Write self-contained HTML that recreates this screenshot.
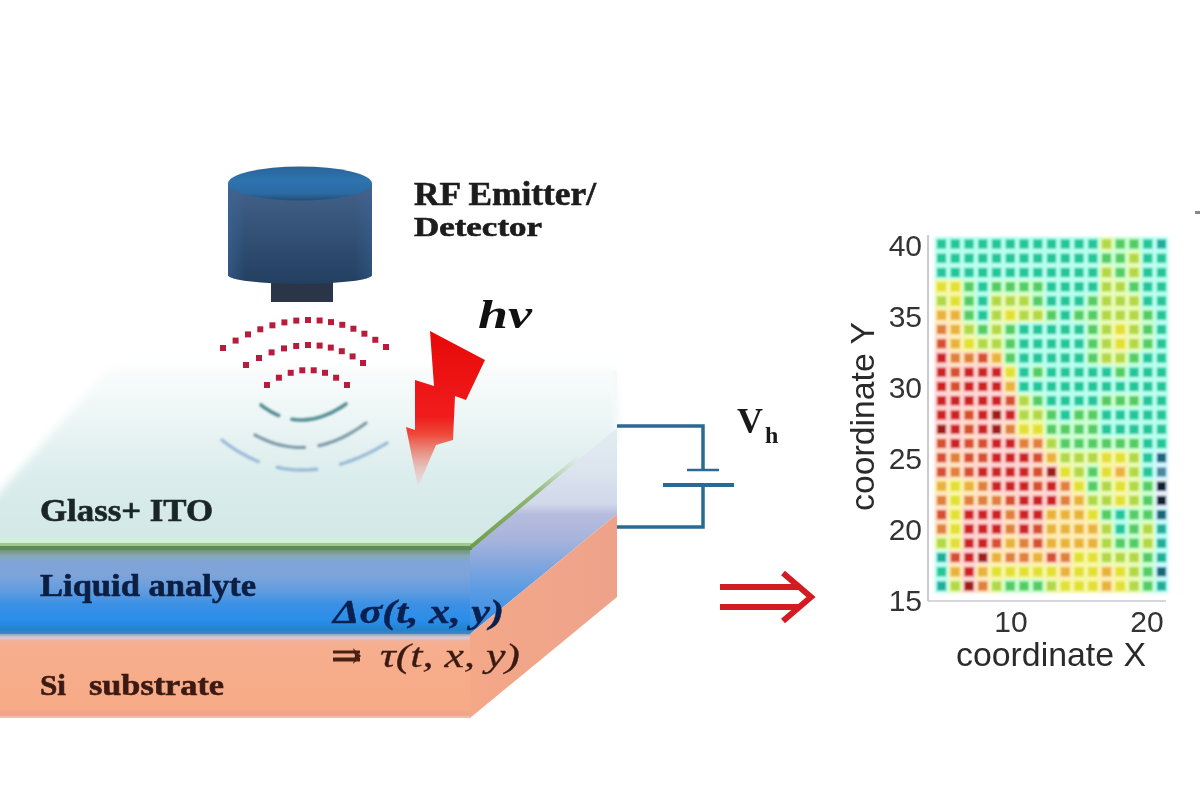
<!DOCTYPE html>
<html><head><meta charset="utf-8"><title>RF sensing diagram</title>
<style>
html,body{margin:0;padding:0;background:#fff;}
body{width:1200px;height:800px;overflow:hidden;}
svg{display:block;filter:blur(0.75px);}
.serif{font-family:"Liberation Serif",serif;font-weight:bold;stroke-width:0.6px;paint-order:stroke;}
.sans{font-family:"Liberation Sans",sans-serif;}
</style></head>
<body>
<svg width="1200" height="800" viewBox="0 0 1200 800">
<defs>
  <linearGradient id="gTop" x1="0" y1="365" x2="0" y2="547" gradientUnits="userSpaceOnUse">
    <stop offset="0" stop-color="#fafcfc"/>
    <stop offset="0.19" stop-color="#f2f8f8"/>
    <stop offset="0.41" stop-color="#e6f2f2"/>
    <stop offset="0.63" stop-color="#dbecec"/>
    <stop offset="0.91" stop-color="#d4e8e8"/>
    <stop offset="1" stop-color="#d4e8e8"/>
  </linearGradient>
  <linearGradient id="gTopL" x1="0" y1="0" x2="300" y2="0" gradientUnits="userSpaceOnUse">
    <stop offset="0" stop-color="#fff" stop-opacity="0.55"/>
    <stop offset="1" stop-color="#fff" stop-opacity="0"/>
  </linearGradient>
  <linearGradient id="gLiq" x1="0" y1="548" x2="0" y2="634" gradientUnits="userSpaceOnUse">
    <stop offset="0" stop-color="#6a9070"/>
    <stop offset="0.047" stop-color="#7a9a8a"/>
    <stop offset="0.093" stop-color="#88a8b8"/>
    <stop offset="0.163" stop-color="#80a4d8"/>
    <stop offset="0.314" stop-color="#7ea4da"/>
    <stop offset="0.5" stop-color="#609ce0"/>
    <stop offset="0.66" stop-color="#3a90e4"/>
    <stop offset="0.84" stop-color="#2a8eea"/>
    <stop offset="0.95" stop-color="#2282cc"/>
    <stop offset="1" stop-color="#4a86c0"/>
  </linearGradient>
  <linearGradient id="gLiqSide" x1="0" y1="428" x2="0" y2="634" gradientUnits="userSpaceOnUse">
    <stop offset="0" stop-color="#e4ecf2"/>
    <stop offset="0.2" stop-color="#dce4ee"/>
    <stop offset="0.37" stop-color="#d0d8ea"/>
    <stop offset="0.42" stop-color="#b6bcde"/>
    <stop offset="0.54" stop-color="#a8b4dc"/>
    <stop offset="0.64" stop-color="#8aa8dc"/>
    <stop offset="0.78" stop-color="#5c9ce2"/>
    <stop offset="0.93" stop-color="#3a90e6"/>
    <stop offset="1" stop-color="#2a86d8"/>
  </linearGradient>
  <linearGradient id="gGreenD" x1="472" y1="546" x2="580" y2="456" gradientUnits="userSpaceOnUse">
    <stop offset="0" stop-color="#6e9e48"/>
    <stop offset="0.6" stop-color="#80aa5a" stop-opacity="0.8"/>
    <stop offset="1" stop-color="#a0c080" stop-opacity="0"/>
  </linearGradient>
  <linearGradient id="gSi" x1="0" y1="634" x2="0" y2="718" gradientUnits="userSpaceOnUse">
    <stop offset="0" stop-color="#90a2b8"/>
    <stop offset="0.04" stop-color="#dcc8d0"/>
    <stop offset="0.08" stop-color="#f0b29a"/>
    <stop offset="0.14" stop-color="#f6ae8e"/>
    <stop offset="0.9" stop-color="#f8aa86"/>
    <stop offset="0.96" stop-color="#eca290"/>
    <stop offset="1" stop-color="#f4c4b4"/>
  </linearGradient>
  <linearGradient id="gSiSide" x1="470" y1="0" x2="617" y2="0" gradientUnits="userSpaceOnUse">
    <stop offset="0" stop-color="#f4a888"/>
    <stop offset="1" stop-color="#eea28a"/>
  </linearGradient>
  <linearGradient id="gGlassSide" x1="0" y1="365" x2="0" y2="547" gradientUnits="userSpaceOnUse">
    <stop offset="0" stop-color="#eef4f6"/>
    <stop offset="0.6" stop-color="#d4e2ea"/>
    <stop offset="1" stop-color="#c0d0e6"/>
  </linearGradient>
  <linearGradient id="gCapTop" x1="0" y1="167" x2="0" y2="200" gradientUnits="userSpaceOnUse">
    <stop offset="0" stop-color="#2a6498"/>
    <stop offset="0.4" stop-color="#2d74b0"/>
    <stop offset="0.8" stop-color="#2c6aa2"/>
    <stop offset="1" stop-color="#22507e"/>
  </linearGradient>
  <linearGradient id="gBody" x1="0" y1="183" x2="0" y2="285" gradientUnits="userSpaceOnUse">
    <stop offset="0" stop-color="#46618a"/>
    <stop offset="0.3" stop-color="#3a587e"/>
    <stop offset="1" stop-color="#223f60"/>
  </linearGradient>
  <linearGradient id="gBodyH" x1="228" y1="0" x2="372" y2="0" gradientUnits="userSpaceOnUse">
    <stop offset="0" stop-color="#3a6aa0" stop-opacity="0.5"/>
    <stop offset="0.12" stop-color="#3a6aa0" stop-opacity="0"/>
    <stop offset="0.88" stop-color="#3a6aa0" stop-opacity="0"/>
    <stop offset="1" stop-color="#3a6aa0" stop-opacity="0.35"/>
  </linearGradient>
  <linearGradient id="gBolt" x1="0" y1="330" x2="0" y2="487" gradientUnits="userSpaceOnUse">
    <stop offset="0" stop-color="#e80808"/>
    <stop offset="0.55" stop-color="#f01c1c"/>
    <stop offset="0.66" stop-color="#ee4638"/>
    <stop offset="0.78" stop-color="#e8887a" stop-opacity="0.9"/>
    <stop offset="1" stop-color="#f0b8b0" stop-opacity="0.15"/>
  </linearGradient>
  <filter id="blurGlass" x="-10%" y="-20%" width="120%" height="140%"><feGaussianBlur stdDeviation="4.5"/></filter>
  <filter id="soft" x="-5%" y="-5%" width="110%" height="110%"><feGaussianBlur stdDeviation="0.9"/></filter>
  <filter id="soft2" x="-5%" y="-5%" width="110%" height="110%"><feGaussianBlur stdDeviation="0.6"/></filter>
</defs>
<rect width="1200" height="800" fill="#fff"/>

<!-- ===== SLAB ===== -->
<!-- glass top + front (light) -->
<polygon points="-10,503 110,368 617,368 617,440 470,560 -10,560" fill="url(#gTop)" filter="url(#blurGlass)"/>
<rect x="613" y="370" width="4" height="60" fill="#f4f8fa" opacity="0.7"/>
<!-- liquid front -->
<rect x="0" y="548" width="471" height="86" fill="url(#gLiq)"/>
<!-- liquid right side -->
<polygon points="470,548 617,428 617,514 470,634" fill="url(#gLiqSide)"/>
<!-- Si front -->
<rect x="0" y="634" width="471" height="84" fill="url(#gSi)"/>
<!-- Si right side -->
<polygon points="470,634 617,514 617,597 470,718" fill="url(#gSiSide)"/>
<!-- interface line between liquid and Si -->
<!-- ITO green line -->
<rect x="0" y="537" width="472" height="6" fill="#d2f0d8"/>
<rect x="0" y="543" width="472" height="3" fill="#a0c890"/>
<rect x="0" y="546" width="472" height="4" fill="#5e8c5a"/>
<line x1="471" y1="547" x2="580" y2="456" stroke="url(#gGreenD)" stroke-width="4"/>

<!-- texts on slab -->
<text class="serif" x="40" y="521" font-size="30.5" fill="#1a2626" stroke="#1a2626" textLength="173" lengthAdjust="spacingAndGlyphs">Glass+ ITO</text>
<text class="serif" x="40" y="595.5" font-size="31.5" fill="#0c1e42" stroke="#0c1e42" textLength="216" lengthAdjust="spacingAndGlyphs">Liquid analyte</text>
<text class="serif" x="40" y="695" font-size="30" fill="#3a1a12" stroke="#3a1a12" textLength="26" lengthAdjust="spacingAndGlyphs">Si</text>
<text class="serif" x="89" y="695" font-size="30" fill="#3a1a12" stroke="#3a1a12" textLength="135" lengthAdjust="spacingAndGlyphs">substrate</text>
<text x="333" y="623" font-family="Liberation Serif" font-weight="bold" font-style="italic" font-size="34" fill="#0a2050" stroke="#0a2050" stroke-width="0.4" textLength="171" lengthAdjust="spacingAndGlyphs">Δσ(t, x, y)</text>
<g fill="#4a2012"><rect x="333" y="650.5" width="27" height="3"/><rect x="333" y="657.5" width="27" height="4"/><polygon points="353,648 361,656 353,664 355,656"/></g>
<text x="380" y="667" font-family="Liberation Serif" font-style="italic" font-size="33" fill="#3a1a12" stroke="#3a1a12" stroke-width="0.3" textLength="140" lengthAdjust="spacingAndGlyphs">τ(t, x, y)</text>

<!-- ===== RF waves ===== -->
<g fill="none" stroke-linecap="round" filter="url(#soft2)">
<rect x="220.0" y="345.0" width="6" height="6" fill="#b81e3c"/><rect x="232.6" y="337.6" width="6" height="6" fill="#b81e3c"/><rect x="245.0" y="331.4" width="6" height="6" fill="#b81e3c"/><rect x="257.3" y="326.3" width="6" height="6" fill="#b81e3c"/><rect x="269.4" y="322.3" width="6" height="6" fill="#b81e3c"/><rect x="281.4" y="319.4" width="6" height="6" fill="#b81e3c"/><rect x="293.3" y="317.6" width="6" height="6" fill="#b81e3c"/><rect x="305.0" y="317.0" width="6" height="6" fill="#b81e3c"/><rect x="316.6" y="317.5" width="6" height="6" fill="#b81e3c"/><rect x="328.0" y="319.1" width="6" height="6" fill="#b81e3c"/><rect x="339.3" y="321.8" width="6" height="6" fill="#b81e3c"/><rect x="350.4" y="325.7" width="6" height="6" fill="#b81e3c"/><rect x="361.4" y="330.7" width="6" height="6" fill="#b81e3c"/><rect x="372.3" y="336.8" width="6" height="6" fill="#b81e3c"/><rect x="383.0" y="344.0" width="6" height="6" fill="#b81e3c"/><rect x="243.0" y="362.0" width="6" height="6" fill="#b81e3c"/><rect x="256.0" y="355.0" width="6" height="6" fill="#b81e3c"/><rect x="268.6" y="349.4" width="6" height="6" fill="#b81e3c"/><rect x="281.0" y="345.4" width="6" height="6" fill="#b81e3c"/><rect x="293.2" y="343.0" width="6" height="6" fill="#b81e3c"/><rect x="305.0" y="342.0" width="6" height="6" fill="#b81e3c"/><rect x="316.6" y="342.6" width="6" height="6" fill="#b81e3c"/><rect x="327.8" y="344.6" width="6" height="6" fill="#b81e3c"/><rect x="338.8" y="348.2" width="6" height="6" fill="#b81e3c"/><rect x="349.6" y="353.4" width="6" height="6" fill="#b81e3c"/><rect x="360.0" y="360.0" width="6" height="6" fill="#b81e3c"/><rect x="264.0" y="382.0" width="6" height="6" fill="#b81e3c"/><rect x="275.9" y="374.7" width="6" height="6" fill="#b81e3c"/><rect x="287.7" y="369.8" width="6" height="6" fill="#b81e3c"/><rect x="299.3" y="367.3" width="6" height="6" fill="#b81e3c"/><rect x="310.7" y="367.3" width="6" height="6" fill="#b81e3c"/><rect x="322.0" y="369.8" width="6" height="6" fill="#b81e3c"/><rect x="333.1" y="374.7" width="6" height="6" fill="#b81e3c"/><rect x="344.0" y="382.0" width="6" height="6" fill="#b81e3c"/>
</g>
<g fill="none" stroke-linecap="round" filter="url(#soft)" opacity="0.85">
<polyline points="261.0,405.0 262.5,406.1 263.9,407.2 265.4,408.2 266.8,409.1 268.3,410.1 269.8,411.0 271.2,411.8 272.7,412.6 274.2,413.4 275.7,414.1 277.2,414.8 278.7,415.4" stroke="#3a7c82" stroke-width="3.6" fill="none" stroke-linecap="round"/><polyline points="291.9,419.2 296.2,419.8 300.6,420.0 305.0,419.9 309.4,419.4 313.9,418.7 318.4,417.6 322.9,416.1 327.4,414.4 332.0,412.3 336.7,409.8 341.3,407.1 346.0,404.0" stroke="#3a7c82" stroke-width="3.6" fill="none" stroke-linecap="round"/><polyline points="255.0,435.0 259.1,437.1 263.2,439.1 267.3,440.8 271.4,442.4 275.5,443.7 279.6,444.9 283.8,445.8 287.9,446.5 292.0,447.0 296.2,447.4 300.3,447.5 304.5,447.4" stroke="#6a8c9c" stroke-width="3.2" fill="none" stroke-linecap="round"/><polyline points="318.9,445.6 322.8,444.7 326.7,443.6 330.6,442.3 334.5,440.9 338.4,439.3 342.4,437.5 346.3,435.5 350.2,433.3 354.2,431.0 358.1,428.5 362.0,425.9 366.0,423.0" stroke="#6a8c9c" stroke-width="3.2" fill="none" stroke-linecap="round"/><polyline points="222.0,440.0 224.9,442.3 227.9,444.5 230.9,446.6 233.9,448.6 236.9,450.6 239.9,452.4 242.9,454.1 246.0,455.8 249.0,457.4 252.1,458.8 255.2,460.2 258.3,461.5" stroke="#8eb4d4" stroke-width="3.4" fill="none" stroke-linecap="round"/><polyline points="277.3,467.3 280.5,468.0 283.7,468.6 286.9,469.0 290.2,469.4 293.4,469.7 296.7,469.9 300.0,470.0 303.3,470.0 306.6,469.9 310.0,469.8 313.3,469.5 316.7,469.2" stroke="#8eb4d4" stroke-width="3.4" fill="none" stroke-linecap="round"/><polyline points="340.6,464.2 344.4,463.0 348.2,461.7 352.0,460.3 355.8,458.8 359.7,457.2 363.5,455.5 367.4,453.7 371.3,451.8 375.2,449.7 379.1,447.6 383.0,445.4 387.0,443.0" stroke="#8eb4d4" stroke-width="3.4" fill="none" stroke-linecap="round"/>
</g>

<!-- ===== Emitter cylinder ===== -->
<rect x="271" y="278" width="62" height="24" fill="#2a3648"/>
<path d="M228,183 L228,275 A72,9 0 0 0 372,275 L372,183 Z" fill="url(#gBody)"/>
<path d="M228,183 L228,275 A72,9 0 0 0 372,275 L372,183 Z" fill="url(#gBodyH)"/>
<ellipse cx="300" cy="183.5" rx="72" ry="17" fill="url(#gCapTop)"/>

<text class="serif" x="414" y="205" font-size="33" fill="#1c1c1c" stroke="#1c1c1c" textLength="182" lengthAdjust="spacingAndGlyphs">RF Emitter/</text>
<text class="serif" x="414" y="236" font-size="28" fill="#1c1c1c" stroke="#1c1c1c" textLength="128" lengthAdjust="spacingAndGlyphs">Detector</text>

<!-- ===== lightning bolt ===== -->
<polygon points="430,331 485,360 466,400 455,396 453,440 436,445 418,487 406,427 415,430 415,380 434,386" fill="url(#gBolt)"/>
<text x="478" y="328" font-family="Liberation Serif" font-weight="bold" font-style="italic" font-size="40" fill="#111" textLength="54" lengthAdjust="spacingAndGlyphs">hν</text>

<!-- ===== circuit ===== -->
<g stroke="#2a6a92" fill="none">
  <polyline points="617,426 703,426 703,470" stroke-width="3.5"/>
  <line x1="687" y1="470" x2="719" y2="470" stroke-width="2.5"/>
  <line x1="663" y1="485" x2="734" y2="485" stroke-width="4"/>
  <polyline points="703,485 703,527 617,527" stroke-width="3.5"/>
</g>
<text class="serif" x="737" y="433" font-size="35" fill="#1a1a1a" stroke="none" textLength="26" lengthAdjust="spacingAndGlyphs">V</text>
<text class="serif" x="765" y="443" font-size="24" fill="#1a1a1a" stroke="none">h</text>

<!-- ===== arrow ===== -->
<g stroke="#d41a22" fill="none" stroke-width="6" stroke-linecap="butt">
  <line x1="720" y1="587" x2="800" y2="587"/>
  <line x1="720" y1="607" x2="800" y2="607"/>
  <polyline points="783,573 811,597 783,621" stroke-linejoin="miter"/>
</g>

<!-- ===== heatmap ===== -->
<rect x="928" y="235" width="238" height="365" fill="#ffffff"/>
<g filter="url(#soft)">
<rect x="934.62" y="236.88" width="13.75" height="14.25" fill="#b4fff0"/>
<rect x="948.38" y="236.88" width="13.75" height="14.25" fill="#b4fff0"/>
<rect x="962.12" y="236.88" width="13.75" height="14.25" fill="#b4fff0"/>
<rect x="975.88" y="236.88" width="13.75" height="14.25" fill="#b4fff0"/>
<rect x="989.62" y="236.88" width="13.75" height="14.25" fill="#b4fff0"/>
<rect x="1003.38" y="236.88" width="13.75" height="14.25" fill="#b4fff0"/>
<rect x="1017.12" y="236.88" width="13.75" height="14.25" fill="#b4fff0"/>
<rect x="1030.88" y="236.88" width="13.75" height="14.25" fill="#b4fff0"/>
<rect x="1044.62" y="236.88" width="13.75" height="14.25" fill="#b4fff0"/>
<rect x="1058.38" y="236.88" width="13.75" height="14.25" fill="#b4fff0"/>
<rect x="1072.12" y="236.88" width="13.75" height="14.25" fill="#b4fff0"/>
<rect x="1085.88" y="236.88" width="13.75" height="14.25" fill="#b4fff0"/>
<rect x="1099.62" y="236.88" width="13.75" height="14.25" fill="#e7fab0"/>
<rect x="1113.38" y="236.88" width="13.75" height="14.25" fill="#c8ffd0"/>
<rect x="1127.12" y="236.88" width="13.75" height="14.25" fill="#c8ffd0"/>
<rect x="1140.88" y="236.88" width="13.75" height="14.25" fill="#b4fff0"/>
<rect x="1154.62" y="236.88" width="13.75" height="14.25" fill="#bafff8"/>
<rect x="934.62" y="251.12" width="13.75" height="14.25" fill="#b4fff0"/>
<rect x="948.38" y="251.12" width="13.75" height="14.25" fill="#b4fff0"/>
<rect x="962.12" y="251.12" width="13.75" height="14.25" fill="#b4fff0"/>
<rect x="975.88" y="251.12" width="13.75" height="14.25" fill="#b4fff0"/>
<rect x="989.62" y="251.12" width="13.75" height="14.25" fill="#b4fff0"/>
<rect x="1003.38" y="251.12" width="13.75" height="14.25" fill="#b4fff0"/>
<rect x="1017.12" y="251.12" width="13.75" height="14.25" fill="#b4fff0"/>
<rect x="1030.88" y="251.12" width="13.75" height="14.25" fill="#b4fff0"/>
<rect x="1044.62" y="251.12" width="13.75" height="14.25" fill="#b4fff0"/>
<rect x="1058.38" y="251.12" width="13.75" height="14.25" fill="#b4fff0"/>
<rect x="1072.12" y="251.12" width="13.75" height="14.25" fill="#b4fff0"/>
<rect x="1085.88" y="251.12" width="13.75" height="14.25" fill="#b4fff0"/>
<rect x="1099.62" y="251.12" width="13.75" height="14.25" fill="#c8ffd0"/>
<rect x="1113.38" y="251.12" width="13.75" height="14.25" fill="#c8ffd0"/>
<rect x="1127.12" y="251.12" width="13.75" height="14.25" fill="#e7fab0"/>
<rect x="1140.88" y="251.12" width="13.75" height="14.25" fill="#b4fff0"/>
<rect x="1154.62" y="251.12" width="13.75" height="14.25" fill="#b4fff0"/>
<rect x="934.62" y="265.38" width="13.75" height="14.25" fill="#b4fff0"/>
<rect x="948.38" y="265.38" width="13.75" height="14.25" fill="#b4fff0"/>
<rect x="962.12" y="265.38" width="13.75" height="14.25" fill="#b4fff0"/>
<rect x="975.88" y="265.38" width="13.75" height="14.25" fill="#b4fff0"/>
<rect x="989.62" y="265.38" width="13.75" height="14.25" fill="#b4fff0"/>
<rect x="1003.38" y="265.38" width="13.75" height="14.25" fill="#b4fff0"/>
<rect x="1017.12" y="265.38" width="13.75" height="14.25" fill="#b4fff0"/>
<rect x="1030.88" y="265.38" width="13.75" height="14.25" fill="#b4fff0"/>
<rect x="1044.62" y="265.38" width="13.75" height="14.25" fill="#b4fff0"/>
<rect x="1058.38" y="265.38" width="13.75" height="14.25" fill="#b4fff0"/>
<rect x="1072.12" y="265.38" width="13.75" height="14.25" fill="#b4fff0"/>
<rect x="1085.88" y="265.38" width="13.75" height="14.25" fill="#b4fff0"/>
<rect x="1099.62" y="265.38" width="13.75" height="14.25" fill="#e7fab0"/>
<rect x="1113.38" y="265.38" width="13.75" height="14.25" fill="#c8ffd0"/>
<rect x="1127.12" y="265.38" width="13.75" height="14.25" fill="#e7fab0"/>
<rect x="1140.88" y="265.38" width="13.75" height="14.25" fill="#b4fff0"/>
<rect x="1154.62" y="265.38" width="13.75" height="14.25" fill="#b4fff0"/>
<rect x="934.62" y="279.62" width="13.75" height="14.25" fill="#f7f69e"/>
<rect x="948.38" y="279.62" width="13.75" height="14.25" fill="#f7f69e"/>
<rect x="962.12" y="279.62" width="13.75" height="14.25" fill="#c8ffd0"/>
<rect x="975.88" y="279.62" width="13.75" height="14.25" fill="#b4fff0"/>
<rect x="989.62" y="279.62" width="13.75" height="14.25" fill="#c8ffd0"/>
<rect x="1003.38" y="279.62" width="13.75" height="14.25" fill="#c8ffd0"/>
<rect x="1017.12" y="279.62" width="13.75" height="14.25" fill="#c8ffd0"/>
<rect x="1030.88" y="279.62" width="13.75" height="14.25" fill="#c8ffd0"/>
<rect x="1044.62" y="279.62" width="13.75" height="14.25" fill="#b4fff0"/>
<rect x="1058.38" y="279.62" width="13.75" height="14.25" fill="#b4fff0"/>
<rect x="1072.12" y="279.62" width="13.75" height="14.25" fill="#b4fff0"/>
<rect x="1085.88" y="279.62" width="13.75" height="14.25" fill="#b4fff0"/>
<rect x="1099.62" y="279.62" width="13.75" height="14.25" fill="#e7fab0"/>
<rect x="1113.38" y="279.62" width="13.75" height="14.25" fill="#e7fab0"/>
<rect x="1127.12" y="279.62" width="13.75" height="14.25" fill="#c8ffd0"/>
<rect x="1140.88" y="279.62" width="13.75" height="14.25" fill="#b4fff0"/>
<rect x="1154.62" y="279.62" width="13.75" height="14.25" fill="#b4fff0"/>
<rect x="934.62" y="293.88" width="13.75" height="14.25" fill="#e7fab0"/>
<rect x="948.38" y="293.88" width="13.75" height="14.25" fill="#f7f69e"/>
<rect x="962.12" y="293.88" width="13.75" height="14.25" fill="#c8ffd0"/>
<rect x="975.88" y="293.88" width="13.75" height="14.25" fill="#b4fff0"/>
<rect x="989.62" y="293.88" width="13.75" height="14.25" fill="#e7fab0"/>
<rect x="1003.38" y="293.88" width="13.75" height="14.25" fill="#e7fab0"/>
<rect x="1017.12" y="293.88" width="13.75" height="14.25" fill="#e7fab0"/>
<rect x="1030.88" y="293.88" width="13.75" height="14.25" fill="#c8ffd0"/>
<rect x="1044.62" y="293.88" width="13.75" height="14.25" fill="#b4fff0"/>
<rect x="1058.38" y="293.88" width="13.75" height="14.25" fill="#b4fff0"/>
<rect x="1072.12" y="293.88" width="13.75" height="14.25" fill="#b4fff0"/>
<rect x="1085.88" y="293.88" width="13.75" height="14.25" fill="#c8ffd0"/>
<rect x="1099.62" y="293.88" width="13.75" height="14.25" fill="#e7fab0"/>
<rect x="1113.38" y="293.88" width="13.75" height="14.25" fill="#e7fab0"/>
<rect x="1127.12" y="293.88" width="13.75" height="14.25" fill="#e7fab0"/>
<rect x="1140.88" y="293.88" width="13.75" height="14.25" fill="#b4fff0"/>
<rect x="1154.62" y="293.88" width="13.75" height="14.25" fill="#b4fff0"/>
<rect x="934.62" y="308.12" width="13.75" height="14.25" fill="#ffebaf"/>
<rect x="948.38" y="308.12" width="13.75" height="14.25" fill="#ffebaf"/>
<rect x="962.12" y="308.12" width="13.75" height="14.25" fill="#c8ffd0"/>
<rect x="975.88" y="308.12" width="13.75" height="14.25" fill="#b4fff0"/>
<rect x="989.62" y="308.12" width="13.75" height="14.25" fill="#e7fab0"/>
<rect x="1003.38" y="308.12" width="13.75" height="14.25" fill="#f7f69e"/>
<rect x="1017.12" y="308.12" width="13.75" height="14.25" fill="#e7fab0"/>
<rect x="1030.88" y="308.12" width="13.75" height="14.25" fill="#e7fab0"/>
<rect x="1044.62" y="308.12" width="13.75" height="14.25" fill="#c8ffd0"/>
<rect x="1058.38" y="308.12" width="13.75" height="14.25" fill="#b4fff0"/>
<rect x="1072.12" y="308.12" width="13.75" height="14.25" fill="#c8ffd0"/>
<rect x="1085.88" y="308.12" width="13.75" height="14.25" fill="#c8ffd0"/>
<rect x="1099.62" y="308.12" width="13.75" height="14.25" fill="#e7fab0"/>
<rect x="1113.38" y="308.12" width="13.75" height="14.25" fill="#e7fab0"/>
<rect x="1127.12" y="308.12" width="13.75" height="14.25" fill="#e7fab0"/>
<rect x="1140.88" y="308.12" width="13.75" height="14.25" fill="#c8ffd0"/>
<rect x="1154.62" y="308.12" width="13.75" height="14.25" fill="#b4fff0"/>
<rect x="934.62" y="322.38" width="13.75" height="14.25" fill="#ffe2bf"/>
<rect x="948.38" y="322.38" width="13.75" height="14.25" fill="#ffebaf"/>
<rect x="962.12" y="322.38" width="13.75" height="14.25" fill="#e7fab0"/>
<rect x="975.88" y="322.38" width="13.75" height="14.25" fill="#c8ffd0"/>
<rect x="989.62" y="322.38" width="13.75" height="14.25" fill="#e7fab0"/>
<rect x="1003.38" y="322.38" width="13.75" height="14.25" fill="#c8ffd0"/>
<rect x="1017.12" y="322.38" width="13.75" height="14.25" fill="#b4fff0"/>
<rect x="1030.88" y="322.38" width="13.75" height="14.25" fill="#b4fff0"/>
<rect x="1044.62" y="322.38" width="13.75" height="14.25" fill="#b4fff0"/>
<rect x="1058.38" y="322.38" width="13.75" height="14.25" fill="#b4fff0"/>
<rect x="1072.12" y="322.38" width="13.75" height="14.25" fill="#b4fff0"/>
<rect x="1085.88" y="322.38" width="13.75" height="14.25" fill="#c8ffd0"/>
<rect x="1099.62" y="322.38" width="13.75" height="14.25" fill="#e7fab0"/>
<rect x="1113.38" y="322.38" width="13.75" height="14.25" fill="#f7f69e"/>
<rect x="1127.12" y="322.38" width="13.75" height="14.25" fill="#e7fab0"/>
<rect x="1140.88" y="322.38" width="13.75" height="14.25" fill="#c8ffd0"/>
<rect x="1154.62" y="322.38" width="13.75" height="14.25" fill="#b4fff0"/>
<rect x="934.62" y="336.62" width="13.75" height="14.25" fill="#ffdac9"/>
<rect x="948.38" y="336.62" width="13.75" height="14.25" fill="#ffebaf"/>
<rect x="962.12" y="336.62" width="13.75" height="14.25" fill="#f7f69e"/>
<rect x="975.88" y="336.62" width="13.75" height="14.25" fill="#e7fab0"/>
<rect x="989.62" y="336.62" width="13.75" height="14.25" fill="#e7fab0"/>
<rect x="1003.38" y="336.62" width="13.75" height="14.25" fill="#c8ffd0"/>
<rect x="1017.12" y="336.62" width="13.75" height="14.25" fill="#b4fff0"/>
<rect x="1030.88" y="336.62" width="13.75" height="14.25" fill="#b4fff0"/>
<rect x="1044.62" y="336.62" width="13.75" height="14.25" fill="#b4fff0"/>
<rect x="1058.38" y="336.62" width="13.75" height="14.25" fill="#b4fff0"/>
<rect x="1072.12" y="336.62" width="13.75" height="14.25" fill="#b4fff0"/>
<rect x="1085.88" y="336.62" width="13.75" height="14.25" fill="#c8ffd0"/>
<rect x="1099.62" y="336.62" width="13.75" height="14.25" fill="#e7fab0"/>
<rect x="1113.38" y="336.62" width="13.75" height="14.25" fill="#f7f69e"/>
<rect x="1127.12" y="336.62" width="13.75" height="14.25" fill="#e7fab0"/>
<rect x="1140.88" y="336.62" width="13.75" height="14.25" fill="#c8ffd0"/>
<rect x="1154.62" y="336.62" width="13.75" height="14.25" fill="#b4fff0"/>
<rect x="934.62" y="350.88" width="13.75" height="14.25" fill="#ffd2d2"/>
<rect x="948.38" y="350.88" width="13.75" height="14.25" fill="#ffe2bf"/>
<rect x="962.12" y="350.88" width="13.75" height="14.25" fill="#ffe2bf"/>
<rect x="975.88" y="350.88" width="13.75" height="14.25" fill="#ffdac9"/>
<rect x="989.62" y="350.88" width="13.75" height="14.25" fill="#ffebaf"/>
<rect x="1003.38" y="350.88" width="13.75" height="14.25" fill="#c8ffd0"/>
<rect x="1017.12" y="350.88" width="13.75" height="14.25" fill="#b4fff0"/>
<rect x="1030.88" y="350.88" width="13.75" height="14.25" fill="#b4fff0"/>
<rect x="1044.62" y="350.88" width="13.75" height="14.25" fill="#b4fff0"/>
<rect x="1058.38" y="350.88" width="13.75" height="14.25" fill="#b4fff0"/>
<rect x="1072.12" y="350.88" width="13.75" height="14.25" fill="#b4fff0"/>
<rect x="1085.88" y="350.88" width="13.75" height="14.25" fill="#c8ffd0"/>
<rect x="1099.62" y="350.88" width="13.75" height="14.25" fill="#e7fab0"/>
<rect x="1113.38" y="350.88" width="13.75" height="14.25" fill="#e7fab0"/>
<rect x="1127.12" y="350.88" width="13.75" height="14.25" fill="#c8ffd0"/>
<rect x="1140.88" y="350.88" width="13.75" height="14.25" fill="#b4fff0"/>
<rect x="1154.62" y="350.88" width="13.75" height="14.25" fill="#b4fff0"/>
<rect x="934.62" y="365.12" width="13.75" height="14.25" fill="#ffd2d2"/>
<rect x="948.38" y="365.12" width="13.75" height="14.25" fill="#ffdac9"/>
<rect x="962.12" y="365.12" width="13.75" height="14.25" fill="#ffd2d2"/>
<rect x="975.88" y="365.12" width="13.75" height="14.25" fill="#ffd2d2"/>
<rect x="989.62" y="365.12" width="13.75" height="14.25" fill="#ffd2d2"/>
<rect x="1003.38" y="365.12" width="13.75" height="14.25" fill="#f7f69e"/>
<rect x="1017.12" y="365.12" width="13.75" height="14.25" fill="#b4fff0"/>
<rect x="1030.88" y="365.12" width="13.75" height="14.25" fill="#c8ffd0"/>
<rect x="1044.62" y="365.12" width="13.75" height="14.25" fill="#b4fff0"/>
<rect x="1058.38" y="365.12" width="13.75" height="14.25" fill="#b4fff0"/>
<rect x="1072.12" y="365.12" width="13.75" height="14.25" fill="#b4fff0"/>
<rect x="1085.88" y="365.12" width="13.75" height="14.25" fill="#b4fff0"/>
<rect x="1099.62" y="365.12" width="13.75" height="14.25" fill="#b4fff0"/>
<rect x="1113.38" y="365.12" width="13.75" height="14.25" fill="#c8ffd0"/>
<rect x="1127.12" y="365.12" width="13.75" height="14.25" fill="#b4fff0"/>
<rect x="1140.88" y="365.12" width="13.75" height="14.25" fill="#b4fff0"/>
<rect x="1154.62" y="365.12" width="13.75" height="14.25" fill="#b4fff0"/>
<rect x="934.62" y="379.38" width="13.75" height="14.25" fill="#ffd2d2"/>
<rect x="948.38" y="379.38" width="13.75" height="14.25" fill="#ffdac9"/>
<rect x="962.12" y="379.38" width="13.75" height="14.25" fill="#ffd2d2"/>
<rect x="975.88" y="379.38" width="13.75" height="14.25" fill="#ffd2d2"/>
<rect x="989.62" y="379.38" width="13.75" height="14.25" fill="#ffd2d2"/>
<rect x="1003.38" y="379.38" width="13.75" height="14.25" fill="#ffebaf"/>
<rect x="1017.12" y="379.38" width="13.75" height="14.25" fill="#b4fff0"/>
<rect x="1030.88" y="379.38" width="13.75" height="14.25" fill="#b4fff0"/>
<rect x="1044.62" y="379.38" width="13.75" height="14.25" fill="#b4fff0"/>
<rect x="1058.38" y="379.38" width="13.75" height="14.25" fill="#b4fff0"/>
<rect x="1072.12" y="379.38" width="13.75" height="14.25" fill="#b4fff0"/>
<rect x="1085.88" y="379.38" width="13.75" height="14.25" fill="#b4fff0"/>
<rect x="1099.62" y="379.38" width="13.75" height="14.25" fill="#b4fff0"/>
<rect x="1113.38" y="379.38" width="13.75" height="14.25" fill="#b4fff0"/>
<rect x="1127.12" y="379.38" width="13.75" height="14.25" fill="#b4fff0"/>
<rect x="1140.88" y="379.38" width="13.75" height="14.25" fill="#b4fff0"/>
<rect x="1154.62" y="379.38" width="13.75" height="14.25" fill="#b4fff0"/>
<rect x="934.62" y="393.62" width="13.75" height="14.25" fill="#ffd2d2"/>
<rect x="948.38" y="393.62" width="13.75" height="14.25" fill="#ffd2d2"/>
<rect x="962.12" y="393.62" width="13.75" height="14.25" fill="#ffd2d2"/>
<rect x="975.88" y="393.62" width="13.75" height="14.25" fill="#ffd2d2"/>
<rect x="989.62" y="393.62" width="13.75" height="14.25" fill="#ffd2d2"/>
<rect x="1003.38" y="393.62" width="13.75" height="14.25" fill="#ffdac9"/>
<rect x="1017.12" y="393.62" width="13.75" height="14.25" fill="#e7fab0"/>
<rect x="1030.88" y="393.62" width="13.75" height="14.25" fill="#c8ffd0"/>
<rect x="1044.62" y="393.62" width="13.75" height="14.25" fill="#b4fff0"/>
<rect x="1058.38" y="393.62" width="13.75" height="14.25" fill="#b4fff0"/>
<rect x="1072.12" y="393.62" width="13.75" height="14.25" fill="#b4fff0"/>
<rect x="1085.88" y="393.62" width="13.75" height="14.25" fill="#b4fff0"/>
<rect x="1099.62" y="393.62" width="13.75" height="14.25" fill="#c8ffd0"/>
<rect x="1113.38" y="393.62" width="13.75" height="14.25" fill="#c8ffd0"/>
<rect x="1127.12" y="393.62" width="13.75" height="14.25" fill="#c8ffd0"/>
<rect x="1140.88" y="393.62" width="13.75" height="14.25" fill="#b4fff0"/>
<rect x="1154.62" y="393.62" width="13.75" height="14.25" fill="#b4fff0"/>
<rect x="934.62" y="407.88" width="13.75" height="14.25" fill="#ffd2d2"/>
<rect x="948.38" y="407.88" width="13.75" height="14.25" fill="#ffd2d2"/>
<rect x="962.12" y="407.88" width="13.75" height="14.25" fill="#ffdac9"/>
<rect x="975.88" y="407.88" width="13.75" height="14.25" fill="#ffd2d2"/>
<rect x="989.62" y="407.88" width="13.75" height="14.25" fill="#ffd8d4"/>
<rect x="1003.38" y="407.88" width="13.75" height="14.25" fill="#ffd2d2"/>
<rect x="1017.12" y="407.88" width="13.75" height="14.25" fill="#e7fab0"/>
<rect x="1030.88" y="407.88" width="13.75" height="14.25" fill="#e7fab0"/>
<rect x="1044.62" y="407.88" width="13.75" height="14.25" fill="#c8ffd0"/>
<rect x="1058.38" y="407.88" width="13.75" height="14.25" fill="#b4fff0"/>
<rect x="1072.12" y="407.88" width="13.75" height="14.25" fill="#c8ffd0"/>
<rect x="1085.88" y="407.88" width="13.75" height="14.25" fill="#c8ffd0"/>
<rect x="1099.62" y="407.88" width="13.75" height="14.25" fill="#b4fff0"/>
<rect x="1113.38" y="407.88" width="13.75" height="14.25" fill="#b4fff0"/>
<rect x="1127.12" y="407.88" width="13.75" height="14.25" fill="#b4fff0"/>
<rect x="1140.88" y="407.88" width="13.75" height="14.25" fill="#b4fff0"/>
<rect x="1154.62" y="407.88" width="13.75" height="14.25" fill="#b4fff0"/>
<rect x="934.62" y="422.12" width="13.75" height="14.25" fill="#ffd8d4"/>
<rect x="948.38" y="422.12" width="13.75" height="14.25" fill="#ffd2d2"/>
<rect x="962.12" y="422.12" width="13.75" height="14.25" fill="#ffdac9"/>
<rect x="975.88" y="422.12" width="13.75" height="14.25" fill="#ffd2d2"/>
<rect x="989.62" y="422.12" width="13.75" height="14.25" fill="#ffd8d4"/>
<rect x="1003.38" y="422.12" width="13.75" height="14.25" fill="#ffe2bf"/>
<rect x="1017.12" y="422.12" width="13.75" height="14.25" fill="#f7f69e"/>
<rect x="1030.88" y="422.12" width="13.75" height="14.25" fill="#f7f69e"/>
<rect x="1044.62" y="422.12" width="13.75" height="14.25" fill="#c8ffd0"/>
<rect x="1058.38" y="422.12" width="13.75" height="14.25" fill="#c8ffd0"/>
<rect x="1072.12" y="422.12" width="13.75" height="14.25" fill="#c8ffd0"/>
<rect x="1085.88" y="422.12" width="13.75" height="14.25" fill="#c8ffd0"/>
<rect x="1099.62" y="422.12" width="13.75" height="14.25" fill="#b4fff0"/>
<rect x="1113.38" y="422.12" width="13.75" height="14.25" fill="#b4fff0"/>
<rect x="1127.12" y="422.12" width="13.75" height="14.25" fill="#b4fff0"/>
<rect x="1140.88" y="422.12" width="13.75" height="14.25" fill="#b4fff0"/>
<rect x="1154.62" y="422.12" width="13.75" height="14.25" fill="#b4fff0"/>
<rect x="934.62" y="436.38" width="13.75" height="14.25" fill="#ffdac9"/>
<rect x="948.38" y="436.38" width="13.75" height="14.25" fill="#ffd2d2"/>
<rect x="962.12" y="436.38" width="13.75" height="14.25" fill="#ffdac9"/>
<rect x="975.88" y="436.38" width="13.75" height="14.25" fill="#ffdac9"/>
<rect x="989.62" y="436.38" width="13.75" height="14.25" fill="#ffd2d2"/>
<rect x="1003.38" y="436.38" width="13.75" height="14.25" fill="#ffd2d2"/>
<rect x="1017.12" y="436.38" width="13.75" height="14.25" fill="#ffe2bf"/>
<rect x="1030.88" y="436.38" width="13.75" height="14.25" fill="#ffe2bf"/>
<rect x="1044.62" y="436.38" width="13.75" height="14.25" fill="#e7fab0"/>
<rect x="1058.38" y="436.38" width="13.75" height="14.25" fill="#c8ffd0"/>
<rect x="1072.12" y="436.38" width="13.75" height="14.25" fill="#c8ffd0"/>
<rect x="1085.88" y="436.38" width="13.75" height="14.25" fill="#c8ffd0"/>
<rect x="1099.62" y="436.38" width="13.75" height="14.25" fill="#c8ffd0"/>
<rect x="1113.38" y="436.38" width="13.75" height="14.25" fill="#c8ffd0"/>
<rect x="1127.12" y="436.38" width="13.75" height="14.25" fill="#c8ffd0"/>
<rect x="1140.88" y="436.38" width="13.75" height="14.25" fill="#b4fff0"/>
<rect x="1154.62" y="436.38" width="13.75" height="14.25" fill="#b4fff0"/>
<rect x="934.62" y="450.62" width="13.75" height="14.25" fill="#ffdac9"/>
<rect x="948.38" y="450.62" width="13.75" height="14.25" fill="#ffe2bf"/>
<rect x="962.12" y="450.62" width="13.75" height="14.25" fill="#ffdac9"/>
<rect x="975.88" y="450.62" width="13.75" height="14.25" fill="#ffdac9"/>
<rect x="989.62" y="450.62" width="13.75" height="14.25" fill="#ffd2d2"/>
<rect x="1003.38" y="450.62" width="13.75" height="14.25" fill="#ffd2d2"/>
<rect x="1017.12" y="450.62" width="13.75" height="14.25" fill="#ffd2d2"/>
<rect x="1030.88" y="450.62" width="13.75" height="14.25" fill="#ffdac9"/>
<rect x="1044.62" y="450.62" width="13.75" height="14.25" fill="#ffebaf"/>
<rect x="1058.38" y="450.62" width="13.75" height="14.25" fill="#e7fab0"/>
<rect x="1072.12" y="450.62" width="13.75" height="14.25" fill="#e7fab0"/>
<rect x="1085.88" y="450.62" width="13.75" height="14.25" fill="#e7fab0"/>
<rect x="1099.62" y="450.62" width="13.75" height="14.25" fill="#f7f69e"/>
<rect x="1113.38" y="450.62" width="13.75" height="14.25" fill="#f7f69e"/>
<rect x="1127.12" y="450.62" width="13.75" height="14.25" fill="#e7fab0"/>
<rect x="1140.88" y="450.62" width="13.75" height="14.25" fill="#b4fff0"/>
<rect x="1154.62" y="450.62" width="13.75" height="14.25" fill="#cef7ff"/>
<rect x="934.62" y="464.88" width="13.75" height="14.25" fill="#ffdac9"/>
<rect x="948.38" y="464.88" width="13.75" height="14.25" fill="#ffe2bf"/>
<rect x="962.12" y="464.88" width="13.75" height="14.25" fill="#ffdac9"/>
<rect x="975.88" y="464.88" width="13.75" height="14.25" fill="#ffd2d2"/>
<rect x="989.62" y="464.88" width="13.75" height="14.25" fill="#ffd2d2"/>
<rect x="1003.38" y="464.88" width="13.75" height="14.25" fill="#ffd2d2"/>
<rect x="1017.12" y="464.88" width="13.75" height="14.25" fill="#ffd2d2"/>
<rect x="1030.88" y="464.88" width="13.75" height="14.25" fill="#ffdac9"/>
<rect x="1044.62" y="464.88" width="13.75" height="14.25" fill="#ffd8d4"/>
<rect x="1058.38" y="464.88" width="13.75" height="14.25" fill="#f7f69e"/>
<rect x="1072.12" y="464.88" width="13.75" height="14.25" fill="#e7fab0"/>
<rect x="1085.88" y="464.88" width="13.75" height="14.25" fill="#c8ffd0"/>
<rect x="1099.62" y="464.88" width="13.75" height="14.25" fill="#f7f69e"/>
<rect x="1113.38" y="464.88" width="13.75" height="14.25" fill="#ffebaf"/>
<rect x="1127.12" y="464.88" width="13.75" height="14.25" fill="#e7fab0"/>
<rect x="1140.88" y="464.88" width="13.75" height="14.25" fill="#b4fff0"/>
<rect x="1154.62" y="464.88" width="13.75" height="14.25" fill="#d4f4ff"/>
<rect x="934.62" y="479.12" width="13.75" height="14.25" fill="#ffebaf"/>
<rect x="948.38" y="479.12" width="13.75" height="14.25" fill="#f7f69e"/>
<rect x="962.12" y="479.12" width="13.75" height="14.25" fill="#ffebaf"/>
<rect x="975.88" y="479.12" width="13.75" height="14.25" fill="#ffe2bf"/>
<rect x="989.62" y="479.12" width="13.75" height="14.25" fill="#ffd2d2"/>
<rect x="1003.38" y="479.12" width="13.75" height="14.25" fill="#ffd2d2"/>
<rect x="1017.12" y="479.12" width="13.75" height="14.25" fill="#ffd2d2"/>
<rect x="1030.88" y="479.12" width="13.75" height="14.25" fill="#ffdac9"/>
<rect x="1044.62" y="479.12" width="13.75" height="14.25" fill="#ffd2d2"/>
<rect x="1058.38" y="479.12" width="13.75" height="14.25" fill="#ffe2bf"/>
<rect x="1072.12" y="479.12" width="13.75" height="14.25" fill="#f7f69e"/>
<rect x="1085.88" y="479.12" width="13.75" height="14.25" fill="#c8ffd0"/>
<rect x="1099.62" y="479.12" width="13.75" height="14.25" fill="#e7fab0"/>
<rect x="1113.38" y="479.12" width="13.75" height="14.25" fill="#f7f69e"/>
<rect x="1127.12" y="479.12" width="13.75" height="14.25" fill="#e7fab0"/>
<rect x="1140.88" y="479.12" width="13.75" height="14.25" fill="#c8ffd0"/>
<rect x="1154.62" y="479.12" width="13.75" height="14.25" fill="#e3eef8"/>
<rect x="934.62" y="493.38" width="13.75" height="14.25" fill="#ffe2bf"/>
<rect x="948.38" y="493.38" width="13.75" height="14.25" fill="#f7f69e"/>
<rect x="962.12" y="493.38" width="13.75" height="14.25" fill="#ffe2bf"/>
<rect x="975.88" y="493.38" width="13.75" height="14.25" fill="#ffe2bf"/>
<rect x="989.62" y="493.38" width="13.75" height="14.25" fill="#ffe2bf"/>
<rect x="1003.38" y="493.38" width="13.75" height="14.25" fill="#ffdac9"/>
<rect x="1017.12" y="493.38" width="13.75" height="14.25" fill="#ffd2d2"/>
<rect x="1030.88" y="493.38" width="13.75" height="14.25" fill="#ffd2d2"/>
<rect x="1044.62" y="493.38" width="13.75" height="14.25" fill="#ffd2d2"/>
<rect x="1058.38" y="493.38" width="13.75" height="14.25" fill="#ffe2bf"/>
<rect x="1072.12" y="493.38" width="13.75" height="14.25" fill="#ffebaf"/>
<rect x="1085.88" y="493.38" width="13.75" height="14.25" fill="#e7fab0"/>
<rect x="1099.62" y="493.38" width="13.75" height="14.25" fill="#e7fab0"/>
<rect x="1113.38" y="493.38" width="13.75" height="14.25" fill="#f7f69e"/>
<rect x="1127.12" y="493.38" width="13.75" height="14.25" fill="#e7fab0"/>
<rect x="1140.88" y="493.38" width="13.75" height="14.25" fill="#c8ffd0"/>
<rect x="1154.62" y="493.38" width="13.75" height="14.25" fill="#e3eef8"/>
<rect x="934.62" y="507.62" width="13.75" height="14.25" fill="#ffdac9"/>
<rect x="948.38" y="507.62" width="13.75" height="14.25" fill="#f7f69e"/>
<rect x="962.12" y="507.62" width="13.75" height="14.25" fill="#ffd2d2"/>
<rect x="975.88" y="507.62" width="13.75" height="14.25" fill="#ffd2d2"/>
<rect x="989.62" y="507.62" width="13.75" height="14.25" fill="#ffd2d2"/>
<rect x="1003.38" y="507.62" width="13.75" height="14.25" fill="#ffe2bf"/>
<rect x="1017.12" y="507.62" width="13.75" height="14.25" fill="#ffd2d2"/>
<rect x="1030.88" y="507.62" width="13.75" height="14.25" fill="#ffd2d2"/>
<rect x="1044.62" y="507.62" width="13.75" height="14.25" fill="#ffebaf"/>
<rect x="1058.38" y="507.62" width="13.75" height="14.25" fill="#ffebaf"/>
<rect x="1072.12" y="507.62" width="13.75" height="14.25" fill="#ffebaf"/>
<rect x="1085.88" y="507.62" width="13.75" height="14.25" fill="#f7f69e"/>
<rect x="1099.62" y="507.62" width="13.75" height="14.25" fill="#c8ffd0"/>
<rect x="1113.38" y="507.62" width="13.75" height="14.25" fill="#b4fff0"/>
<rect x="1127.12" y="507.62" width="13.75" height="14.25" fill="#c8ffd0"/>
<rect x="1140.88" y="507.62" width="13.75" height="14.25" fill="#c8ffd0"/>
<rect x="1154.62" y="507.62" width="13.75" height="14.25" fill="#cef7ff"/>
<rect x="934.62" y="521.88" width="13.75" height="14.25" fill="#ffe2bf"/>
<rect x="948.38" y="521.88" width="13.75" height="14.25" fill="#f7f69e"/>
<rect x="962.12" y="521.88" width="13.75" height="14.25" fill="#ffd2d2"/>
<rect x="975.88" y="521.88" width="13.75" height="14.25" fill="#ffd2d2"/>
<rect x="989.62" y="521.88" width="13.75" height="14.25" fill="#ffd2d2"/>
<rect x="1003.38" y="521.88" width="13.75" height="14.25" fill="#ffe2bf"/>
<rect x="1017.12" y="521.88" width="13.75" height="14.25" fill="#ffd2d2"/>
<rect x="1030.88" y="521.88" width="13.75" height="14.25" fill="#ffdac9"/>
<rect x="1044.62" y="521.88" width="13.75" height="14.25" fill="#ffebaf"/>
<rect x="1058.38" y="521.88" width="13.75" height="14.25" fill="#ffebaf"/>
<rect x="1072.12" y="521.88" width="13.75" height="14.25" fill="#ffebaf"/>
<rect x="1085.88" y="521.88" width="13.75" height="14.25" fill="#ffebaf"/>
<rect x="1099.62" y="521.88" width="13.75" height="14.25" fill="#e7fab0"/>
<rect x="1113.38" y="521.88" width="13.75" height="14.25" fill="#b4fff0"/>
<rect x="1127.12" y="521.88" width="13.75" height="14.25" fill="#c8ffd0"/>
<rect x="1140.88" y="521.88" width="13.75" height="14.25" fill="#e7fab0"/>
<rect x="1154.62" y="521.88" width="13.75" height="14.25" fill="#bafff8"/>
<rect x="934.62" y="536.12" width="13.75" height="14.25" fill="#e7fab0"/>
<rect x="948.38" y="536.12" width="13.75" height="14.25" fill="#f7f69e"/>
<rect x="962.12" y="536.12" width="13.75" height="14.25" fill="#ffd2d2"/>
<rect x="975.88" y="536.12" width="13.75" height="14.25" fill="#ffd2d2"/>
<rect x="989.62" y="536.12" width="13.75" height="14.25" fill="#ffdac9"/>
<rect x="1003.38" y="536.12" width="13.75" height="14.25" fill="#ffebaf"/>
<rect x="1017.12" y="536.12" width="13.75" height="14.25" fill="#ffe2bf"/>
<rect x="1030.88" y="536.12" width="13.75" height="14.25" fill="#ffdac9"/>
<rect x="1044.62" y="536.12" width="13.75" height="14.25" fill="#ffebaf"/>
<rect x="1058.38" y="536.12" width="13.75" height="14.25" fill="#ffebaf"/>
<rect x="1072.12" y="536.12" width="13.75" height="14.25" fill="#ffebaf"/>
<rect x="1085.88" y="536.12" width="13.75" height="14.25" fill="#ffebaf"/>
<rect x="1099.62" y="536.12" width="13.75" height="14.25" fill="#e7fab0"/>
<rect x="1113.38" y="536.12" width="13.75" height="14.25" fill="#c8ffd0"/>
<rect x="1127.12" y="536.12" width="13.75" height="14.25" fill="#c8ffd0"/>
<rect x="1140.88" y="536.12" width="13.75" height="14.25" fill="#e7fab0"/>
<rect x="1154.62" y="536.12" width="13.75" height="14.25" fill="#bafff8"/>
<rect x="934.62" y="550.38" width="13.75" height="14.25" fill="#bafff8"/>
<rect x="948.38" y="550.38" width="13.75" height="14.25" fill="#ffdac9"/>
<rect x="962.12" y="550.38" width="13.75" height="14.25" fill="#ffd2d2"/>
<rect x="975.88" y="550.38" width="13.75" height="14.25" fill="#ffd8d4"/>
<rect x="989.62" y="550.38" width="13.75" height="14.25" fill="#ffebaf"/>
<rect x="1003.38" y="550.38" width="13.75" height="14.25" fill="#ffe2bf"/>
<rect x="1017.12" y="550.38" width="13.75" height="14.25" fill="#ffe2bf"/>
<rect x="1030.88" y="550.38" width="13.75" height="14.25" fill="#ffebaf"/>
<rect x="1044.62" y="550.38" width="13.75" height="14.25" fill="#ffdac9"/>
<rect x="1058.38" y="550.38" width="13.75" height="14.25" fill="#ffe2bf"/>
<rect x="1072.12" y="550.38" width="13.75" height="14.25" fill="#f7f69e"/>
<rect x="1085.88" y="550.38" width="13.75" height="14.25" fill="#f7f69e"/>
<rect x="1099.62" y="550.38" width="13.75" height="14.25" fill="#e7fab0"/>
<rect x="1113.38" y="550.38" width="13.75" height="14.25" fill="#e7fab0"/>
<rect x="1127.12" y="550.38" width="13.75" height="14.25" fill="#e7fab0"/>
<rect x="1140.88" y="550.38" width="13.75" height="14.25" fill="#c8ffd0"/>
<rect x="1154.62" y="550.38" width="13.75" height="14.25" fill="#bafff8"/>
<rect x="934.62" y="564.62" width="13.75" height="14.25" fill="#b4fff0"/>
<rect x="948.38" y="564.62" width="13.75" height="14.25" fill="#ffebaf"/>
<rect x="962.12" y="564.62" width="13.75" height="14.25" fill="#ffd2d2"/>
<rect x="975.88" y="564.62" width="13.75" height="14.25" fill="#ffebaf"/>
<rect x="989.62" y="564.62" width="13.75" height="14.25" fill="#f7f69e"/>
<rect x="1003.38" y="564.62" width="13.75" height="14.25" fill="#f7f69e"/>
<rect x="1017.12" y="564.62" width="13.75" height="14.25" fill="#f7f69e"/>
<rect x="1030.88" y="564.62" width="13.75" height="14.25" fill="#f7f69e"/>
<rect x="1044.62" y="564.62" width="13.75" height="14.25" fill="#f7f69e"/>
<rect x="1058.38" y="564.62" width="13.75" height="14.25" fill="#ffebaf"/>
<rect x="1072.12" y="564.62" width="13.75" height="14.25" fill="#f7f69e"/>
<rect x="1085.88" y="564.62" width="13.75" height="14.25" fill="#f7f69e"/>
<rect x="1099.62" y="564.62" width="13.75" height="14.25" fill="#ffebaf"/>
<rect x="1113.38" y="564.62" width="13.75" height="14.25" fill="#f7f69e"/>
<rect x="1127.12" y="564.62" width="13.75" height="14.25" fill="#e7fab0"/>
<rect x="1140.88" y="564.62" width="13.75" height="14.25" fill="#c8ffd0"/>
<rect x="1154.62" y="564.62" width="13.75" height="14.25" fill="#cef7ff"/>
<rect x="934.62" y="578.88" width="13.75" height="14.25" fill="#bafff8"/>
<rect x="948.38" y="578.88" width="13.75" height="14.25" fill="#e7fab0"/>
<rect x="962.12" y="578.88" width="13.75" height="14.25" fill="#ffd8d4"/>
<rect x="975.88" y="578.88" width="13.75" height="14.25" fill="#ffe2bf"/>
<rect x="989.62" y="578.88" width="13.75" height="14.25" fill="#e7fab0"/>
<rect x="1003.38" y="578.88" width="13.75" height="14.25" fill="#c8ffd0"/>
<rect x="1017.12" y="578.88" width="13.75" height="14.25" fill="#c8ffd0"/>
<rect x="1030.88" y="578.88" width="13.75" height="14.25" fill="#c8ffd0"/>
<rect x="1044.62" y="578.88" width="13.75" height="14.25" fill="#e7fab0"/>
<rect x="1058.38" y="578.88" width="13.75" height="14.25" fill="#f7f69e"/>
<rect x="1072.12" y="578.88" width="13.75" height="14.25" fill="#f7f69e"/>
<rect x="1085.88" y="578.88" width="13.75" height="14.25" fill="#f7f69e"/>
<rect x="1099.62" y="578.88" width="13.75" height="14.25" fill="#ffebaf"/>
<rect x="1113.38" y="578.88" width="13.75" height="14.25" fill="#f7f69e"/>
<rect x="1127.12" y="578.88" width="13.75" height="14.25" fill="#e7fab0"/>
<rect x="1140.88" y="578.88" width="13.75" height="14.25" fill="#c8ffd0"/>
<rect x="1154.62" y="578.88" width="13.75" height="14.25" fill="#bafff8"/>
<rect x="936.90" y="239.40" width="9.2" height="9.2" fill="#20c698"/>
<rect x="950.65" y="239.40" width="9.2" height="9.2" fill="#20c698"/>
<rect x="964.40" y="239.40" width="9.2" height="9.2" fill="#20c698"/>
<rect x="978.15" y="239.40" width="9.2" height="9.2" fill="#20c698"/>
<rect x="991.90" y="239.40" width="9.2" height="9.2" fill="#20c698"/>
<rect x="1005.65" y="239.40" width="9.2" height="9.2" fill="#20c698"/>
<rect x="1019.40" y="239.40" width="9.2" height="9.2" fill="#20c698"/>
<rect x="1033.15" y="239.40" width="9.2" height="9.2" fill="#20c698"/>
<rect x="1046.90" y="239.40" width="9.2" height="9.2" fill="#20c698"/>
<rect x="1060.65" y="239.40" width="9.2" height="9.2" fill="#20c698"/>
<rect x="1074.40" y="239.40" width="9.2" height="9.2" fill="#20c698"/>
<rect x="1088.15" y="239.40" width="9.2" height="9.2" fill="#20c698"/>
<rect x="1101.90" y="239.40" width="9.2" height="9.2" fill="#b2d844"/>
<rect x="1115.65" y="239.40" width="9.2" height="9.2" fill="#54cc64"/>
<rect x="1129.40" y="239.40" width="9.2" height="9.2" fill="#54cc64"/>
<rect x="1143.15" y="239.40" width="9.2" height="9.2" fill="#20c698"/>
<rect x="1156.90" y="239.40" width="9.2" height="9.2" fill="#1fb09a"/>
<rect x="936.90" y="253.65" width="9.2" height="9.2" fill="#20c698"/>
<rect x="950.65" y="253.65" width="9.2" height="9.2" fill="#20c698"/>
<rect x="964.40" y="253.65" width="9.2" height="9.2" fill="#20c698"/>
<rect x="978.15" y="253.65" width="9.2" height="9.2" fill="#20c698"/>
<rect x="991.90" y="253.65" width="9.2" height="9.2" fill="#20c698"/>
<rect x="1005.65" y="253.65" width="9.2" height="9.2" fill="#20c698"/>
<rect x="1019.40" y="253.65" width="9.2" height="9.2" fill="#20c698"/>
<rect x="1033.15" y="253.65" width="9.2" height="9.2" fill="#20c698"/>
<rect x="1046.90" y="253.65" width="9.2" height="9.2" fill="#20c698"/>
<rect x="1060.65" y="253.65" width="9.2" height="9.2" fill="#20c698"/>
<rect x="1074.40" y="253.65" width="9.2" height="9.2" fill="#20c698"/>
<rect x="1088.15" y="253.65" width="9.2" height="9.2" fill="#20c698"/>
<rect x="1101.90" y="253.65" width="9.2" height="9.2" fill="#54cc64"/>
<rect x="1115.65" y="253.65" width="9.2" height="9.2" fill="#54cc64"/>
<rect x="1129.40" y="253.65" width="9.2" height="9.2" fill="#b2d844"/>
<rect x="1143.15" y="253.65" width="9.2" height="9.2" fill="#20c698"/>
<rect x="1156.90" y="253.65" width="9.2" height="9.2" fill="#20c698"/>
<rect x="936.90" y="267.90" width="9.2" height="9.2" fill="#20c698"/>
<rect x="950.65" y="267.90" width="9.2" height="9.2" fill="#20c698"/>
<rect x="964.40" y="267.90" width="9.2" height="9.2" fill="#20c698"/>
<rect x="978.15" y="267.90" width="9.2" height="9.2" fill="#20c698"/>
<rect x="991.90" y="267.90" width="9.2" height="9.2" fill="#20c698"/>
<rect x="1005.65" y="267.90" width="9.2" height="9.2" fill="#20c698"/>
<rect x="1019.40" y="267.90" width="9.2" height="9.2" fill="#20c698"/>
<rect x="1033.15" y="267.90" width="9.2" height="9.2" fill="#20c698"/>
<rect x="1046.90" y="267.90" width="9.2" height="9.2" fill="#20c698"/>
<rect x="1060.65" y="267.90" width="9.2" height="9.2" fill="#20c698"/>
<rect x="1074.40" y="267.90" width="9.2" height="9.2" fill="#20c698"/>
<rect x="1088.15" y="267.90" width="9.2" height="9.2" fill="#20c698"/>
<rect x="1101.90" y="267.90" width="9.2" height="9.2" fill="#b2d844"/>
<rect x="1115.65" y="267.90" width="9.2" height="9.2" fill="#54cc64"/>
<rect x="1129.40" y="267.90" width="9.2" height="9.2" fill="#b2d844"/>
<rect x="1143.15" y="267.90" width="9.2" height="9.2" fill="#20c698"/>
<rect x="1156.90" y="267.90" width="9.2" height="9.2" fill="#20c698"/>
<rect x="936.90" y="282.15" width="9.2" height="9.2" fill="#e2e030"/>
<rect x="950.65" y="282.15" width="9.2" height="9.2" fill="#e2e030"/>
<rect x="964.40" y="282.15" width="9.2" height="9.2" fill="#54cc64"/>
<rect x="978.15" y="282.15" width="9.2" height="9.2" fill="#20c698"/>
<rect x="991.90" y="282.15" width="9.2" height="9.2" fill="#54cc64"/>
<rect x="1005.65" y="282.15" width="9.2" height="9.2" fill="#54cc64"/>
<rect x="1019.40" y="282.15" width="9.2" height="9.2" fill="#54cc64"/>
<rect x="1033.15" y="282.15" width="9.2" height="9.2" fill="#54cc64"/>
<rect x="1046.90" y="282.15" width="9.2" height="9.2" fill="#20c698"/>
<rect x="1060.65" y="282.15" width="9.2" height="9.2" fill="#20c698"/>
<rect x="1074.40" y="282.15" width="9.2" height="9.2" fill="#20c698"/>
<rect x="1088.15" y="282.15" width="9.2" height="9.2" fill="#20c698"/>
<rect x="1101.90" y="282.15" width="9.2" height="9.2" fill="#b2d844"/>
<rect x="1115.65" y="282.15" width="9.2" height="9.2" fill="#b2d844"/>
<rect x="1129.40" y="282.15" width="9.2" height="9.2" fill="#54cc64"/>
<rect x="1143.15" y="282.15" width="9.2" height="9.2" fill="#20c698"/>
<rect x="1156.90" y="282.15" width="9.2" height="9.2" fill="#20c698"/>
<rect x="936.90" y="296.40" width="9.2" height="9.2" fill="#b2d844"/>
<rect x="950.65" y="296.40" width="9.2" height="9.2" fill="#e2e030"/>
<rect x="964.40" y="296.40" width="9.2" height="9.2" fill="#54cc64"/>
<rect x="978.15" y="296.40" width="9.2" height="9.2" fill="#20c698"/>
<rect x="991.90" y="296.40" width="9.2" height="9.2" fill="#b2d844"/>
<rect x="1005.65" y="296.40" width="9.2" height="9.2" fill="#b2d844"/>
<rect x="1019.40" y="296.40" width="9.2" height="9.2" fill="#b2d844"/>
<rect x="1033.15" y="296.40" width="9.2" height="9.2" fill="#54cc64"/>
<rect x="1046.90" y="296.40" width="9.2" height="9.2" fill="#20c698"/>
<rect x="1060.65" y="296.40" width="9.2" height="9.2" fill="#20c698"/>
<rect x="1074.40" y="296.40" width="9.2" height="9.2" fill="#20c698"/>
<rect x="1088.15" y="296.40" width="9.2" height="9.2" fill="#54cc64"/>
<rect x="1101.90" y="296.40" width="9.2" height="9.2" fill="#b2d844"/>
<rect x="1115.65" y="296.40" width="9.2" height="9.2" fill="#b2d844"/>
<rect x="1129.40" y="296.40" width="9.2" height="9.2" fill="#b2d844"/>
<rect x="1143.15" y="296.40" width="9.2" height="9.2" fill="#20c698"/>
<rect x="1156.90" y="296.40" width="9.2" height="9.2" fill="#20c698"/>
<rect x="936.90" y="310.65" width="9.2" height="9.2" fill="#e8b23a"/>
<rect x="950.65" y="310.65" width="9.2" height="9.2" fill="#e8b23a"/>
<rect x="964.40" y="310.65" width="9.2" height="9.2" fill="#54cc64"/>
<rect x="978.15" y="310.65" width="9.2" height="9.2" fill="#20c698"/>
<rect x="991.90" y="310.65" width="9.2" height="9.2" fill="#b2d844"/>
<rect x="1005.65" y="310.65" width="9.2" height="9.2" fill="#e2e030"/>
<rect x="1019.40" y="310.65" width="9.2" height="9.2" fill="#b2d844"/>
<rect x="1033.15" y="310.65" width="9.2" height="9.2" fill="#b2d844"/>
<rect x="1046.90" y="310.65" width="9.2" height="9.2" fill="#54cc64"/>
<rect x="1060.65" y="310.65" width="9.2" height="9.2" fill="#20c698"/>
<rect x="1074.40" y="310.65" width="9.2" height="9.2" fill="#54cc64"/>
<rect x="1088.15" y="310.65" width="9.2" height="9.2" fill="#54cc64"/>
<rect x="1101.90" y="310.65" width="9.2" height="9.2" fill="#b2d844"/>
<rect x="1115.65" y="310.65" width="9.2" height="9.2" fill="#b2d844"/>
<rect x="1129.40" y="310.65" width="9.2" height="9.2" fill="#b2d844"/>
<rect x="1143.15" y="310.65" width="9.2" height="9.2" fill="#54cc64"/>
<rect x="1156.90" y="310.65" width="9.2" height="9.2" fill="#20c698"/>
<rect x="936.90" y="324.90" width="9.2" height="9.2" fill="#e0803a"/>
<rect x="950.65" y="324.90" width="9.2" height="9.2" fill="#e8b23a"/>
<rect x="964.40" y="324.90" width="9.2" height="9.2" fill="#b2d844"/>
<rect x="978.15" y="324.90" width="9.2" height="9.2" fill="#54cc64"/>
<rect x="991.90" y="324.90" width="9.2" height="9.2" fill="#b2d844"/>
<rect x="1005.65" y="324.90" width="9.2" height="9.2" fill="#54cc64"/>
<rect x="1019.40" y="324.90" width="9.2" height="9.2" fill="#20c698"/>
<rect x="1033.15" y="324.90" width="9.2" height="9.2" fill="#20c698"/>
<rect x="1046.90" y="324.90" width="9.2" height="9.2" fill="#20c698"/>
<rect x="1060.65" y="324.90" width="9.2" height="9.2" fill="#20c698"/>
<rect x="1074.40" y="324.90" width="9.2" height="9.2" fill="#20c698"/>
<rect x="1088.15" y="324.90" width="9.2" height="9.2" fill="#54cc64"/>
<rect x="1101.90" y="324.90" width="9.2" height="9.2" fill="#b2d844"/>
<rect x="1115.65" y="324.90" width="9.2" height="9.2" fill="#e2e030"/>
<rect x="1129.40" y="324.90" width="9.2" height="9.2" fill="#b2d844"/>
<rect x="1143.15" y="324.90" width="9.2" height="9.2" fill="#54cc64"/>
<rect x="1156.90" y="324.90" width="9.2" height="9.2" fill="#20c698"/>
<rect x="936.90" y="339.15" width="9.2" height="9.2" fill="#d6502e"/>
<rect x="950.65" y="339.15" width="9.2" height="9.2" fill="#e8b23a"/>
<rect x="964.40" y="339.15" width="9.2" height="9.2" fill="#e2e030"/>
<rect x="978.15" y="339.15" width="9.2" height="9.2" fill="#b2d844"/>
<rect x="991.90" y="339.15" width="9.2" height="9.2" fill="#b2d844"/>
<rect x="1005.65" y="339.15" width="9.2" height="9.2" fill="#54cc64"/>
<rect x="1019.40" y="339.15" width="9.2" height="9.2" fill="#20c698"/>
<rect x="1033.15" y="339.15" width="9.2" height="9.2" fill="#20c698"/>
<rect x="1046.90" y="339.15" width="9.2" height="9.2" fill="#20c698"/>
<rect x="1060.65" y="339.15" width="9.2" height="9.2" fill="#20c698"/>
<rect x="1074.40" y="339.15" width="9.2" height="9.2" fill="#20c698"/>
<rect x="1088.15" y="339.15" width="9.2" height="9.2" fill="#54cc64"/>
<rect x="1101.90" y="339.15" width="9.2" height="9.2" fill="#b2d844"/>
<rect x="1115.65" y="339.15" width="9.2" height="9.2" fill="#e2e030"/>
<rect x="1129.40" y="339.15" width="9.2" height="9.2" fill="#b2d844"/>
<rect x="1143.15" y="339.15" width="9.2" height="9.2" fill="#54cc64"/>
<rect x="1156.90" y="339.15" width="9.2" height="9.2" fill="#20c698"/>
<rect x="936.90" y="353.40" width="9.2" height="9.2" fill="#ce2222"/>
<rect x="950.65" y="353.40" width="9.2" height="9.2" fill="#e0803a"/>
<rect x="964.40" y="353.40" width="9.2" height="9.2" fill="#e0803a"/>
<rect x="978.15" y="353.40" width="9.2" height="9.2" fill="#d6502e"/>
<rect x="991.90" y="353.40" width="9.2" height="9.2" fill="#e8b23a"/>
<rect x="1005.65" y="353.40" width="9.2" height="9.2" fill="#54cc64"/>
<rect x="1019.40" y="353.40" width="9.2" height="9.2" fill="#20c698"/>
<rect x="1033.15" y="353.40" width="9.2" height="9.2" fill="#20c698"/>
<rect x="1046.90" y="353.40" width="9.2" height="9.2" fill="#20c698"/>
<rect x="1060.65" y="353.40" width="9.2" height="9.2" fill="#20c698"/>
<rect x="1074.40" y="353.40" width="9.2" height="9.2" fill="#20c698"/>
<rect x="1088.15" y="353.40" width="9.2" height="9.2" fill="#54cc64"/>
<rect x="1101.90" y="353.40" width="9.2" height="9.2" fill="#b2d844"/>
<rect x="1115.65" y="353.40" width="9.2" height="9.2" fill="#b2d844"/>
<rect x="1129.40" y="353.40" width="9.2" height="9.2" fill="#54cc64"/>
<rect x="1143.15" y="353.40" width="9.2" height="9.2" fill="#20c698"/>
<rect x="1156.90" y="353.40" width="9.2" height="9.2" fill="#20c698"/>
<rect x="936.90" y="367.65" width="9.2" height="9.2" fill="#ce2222"/>
<rect x="950.65" y="367.65" width="9.2" height="9.2" fill="#d6502e"/>
<rect x="964.40" y="367.65" width="9.2" height="9.2" fill="#ce2222"/>
<rect x="978.15" y="367.65" width="9.2" height="9.2" fill="#ce2222"/>
<rect x="991.90" y="367.65" width="9.2" height="9.2" fill="#ce2222"/>
<rect x="1005.65" y="367.65" width="9.2" height="9.2" fill="#e2e030"/>
<rect x="1019.40" y="367.65" width="9.2" height="9.2" fill="#20c698"/>
<rect x="1033.15" y="367.65" width="9.2" height="9.2" fill="#54cc64"/>
<rect x="1046.90" y="367.65" width="9.2" height="9.2" fill="#20c698"/>
<rect x="1060.65" y="367.65" width="9.2" height="9.2" fill="#20c698"/>
<rect x="1074.40" y="367.65" width="9.2" height="9.2" fill="#20c698"/>
<rect x="1088.15" y="367.65" width="9.2" height="9.2" fill="#20c698"/>
<rect x="1101.90" y="367.65" width="9.2" height="9.2" fill="#20c698"/>
<rect x="1115.65" y="367.65" width="9.2" height="9.2" fill="#54cc64"/>
<rect x="1129.40" y="367.65" width="9.2" height="9.2" fill="#20c698"/>
<rect x="1143.15" y="367.65" width="9.2" height="9.2" fill="#20c698"/>
<rect x="1156.90" y="367.65" width="9.2" height="9.2" fill="#20c698"/>
<rect x="936.90" y="381.90" width="9.2" height="9.2" fill="#ce2222"/>
<rect x="950.65" y="381.90" width="9.2" height="9.2" fill="#d6502e"/>
<rect x="964.40" y="381.90" width="9.2" height="9.2" fill="#ce2222"/>
<rect x="978.15" y="381.90" width="9.2" height="9.2" fill="#ce2222"/>
<rect x="991.90" y="381.90" width="9.2" height="9.2" fill="#ce2222"/>
<rect x="1005.65" y="381.90" width="9.2" height="9.2" fill="#e8b23a"/>
<rect x="1019.40" y="381.90" width="9.2" height="9.2" fill="#20c698"/>
<rect x="1033.15" y="381.90" width="9.2" height="9.2" fill="#20c698"/>
<rect x="1046.90" y="381.90" width="9.2" height="9.2" fill="#20c698"/>
<rect x="1060.65" y="381.90" width="9.2" height="9.2" fill="#20c698"/>
<rect x="1074.40" y="381.90" width="9.2" height="9.2" fill="#20c698"/>
<rect x="1088.15" y="381.90" width="9.2" height="9.2" fill="#20c698"/>
<rect x="1101.90" y="381.90" width="9.2" height="9.2" fill="#20c698"/>
<rect x="1115.65" y="381.90" width="9.2" height="9.2" fill="#20c698"/>
<rect x="1129.40" y="381.90" width="9.2" height="9.2" fill="#20c698"/>
<rect x="1143.15" y="381.90" width="9.2" height="9.2" fill="#20c698"/>
<rect x="1156.90" y="381.90" width="9.2" height="9.2" fill="#20c698"/>
<rect x="936.90" y="396.15" width="9.2" height="9.2" fill="#ce2222"/>
<rect x="950.65" y="396.15" width="9.2" height="9.2" fill="#ce2222"/>
<rect x="964.40" y="396.15" width="9.2" height="9.2" fill="#ce2222"/>
<rect x="978.15" y="396.15" width="9.2" height="9.2" fill="#ce2222"/>
<rect x="991.90" y="396.15" width="9.2" height="9.2" fill="#ce2222"/>
<rect x="1005.65" y="396.15" width="9.2" height="9.2" fill="#d6502e"/>
<rect x="1019.40" y="396.15" width="9.2" height="9.2" fill="#b2d844"/>
<rect x="1033.15" y="396.15" width="9.2" height="9.2" fill="#54cc64"/>
<rect x="1046.90" y="396.15" width="9.2" height="9.2" fill="#20c698"/>
<rect x="1060.65" y="396.15" width="9.2" height="9.2" fill="#20c698"/>
<rect x="1074.40" y="396.15" width="9.2" height="9.2" fill="#20c698"/>
<rect x="1088.15" y="396.15" width="9.2" height="9.2" fill="#20c698"/>
<rect x="1101.90" y="396.15" width="9.2" height="9.2" fill="#54cc64"/>
<rect x="1115.65" y="396.15" width="9.2" height="9.2" fill="#54cc64"/>
<rect x="1129.40" y="396.15" width="9.2" height="9.2" fill="#54cc64"/>
<rect x="1143.15" y="396.15" width="9.2" height="9.2" fill="#20c698"/>
<rect x="1156.90" y="396.15" width="9.2" height="9.2" fill="#20c698"/>
<rect x="936.90" y="410.40" width="9.2" height="9.2" fill="#ce2222"/>
<rect x="950.65" y="410.40" width="9.2" height="9.2" fill="#ce2222"/>
<rect x="964.40" y="410.40" width="9.2" height="9.2" fill="#d6502e"/>
<rect x="978.15" y="410.40" width="9.2" height="9.2" fill="#ce2222"/>
<rect x="991.90" y="410.40" width="9.2" height="9.2" fill="#a01a12"/>
<rect x="1005.65" y="410.40" width="9.2" height="9.2" fill="#ce2222"/>
<rect x="1019.40" y="410.40" width="9.2" height="9.2" fill="#b2d844"/>
<rect x="1033.15" y="410.40" width="9.2" height="9.2" fill="#b2d844"/>
<rect x="1046.90" y="410.40" width="9.2" height="9.2" fill="#54cc64"/>
<rect x="1060.65" y="410.40" width="9.2" height="9.2" fill="#20c698"/>
<rect x="1074.40" y="410.40" width="9.2" height="9.2" fill="#54cc64"/>
<rect x="1088.15" y="410.40" width="9.2" height="9.2" fill="#54cc64"/>
<rect x="1101.90" y="410.40" width="9.2" height="9.2" fill="#20c698"/>
<rect x="1115.65" y="410.40" width="9.2" height="9.2" fill="#20c698"/>
<rect x="1129.40" y="410.40" width="9.2" height="9.2" fill="#20c698"/>
<rect x="1143.15" y="410.40" width="9.2" height="9.2" fill="#20c698"/>
<rect x="1156.90" y="410.40" width="9.2" height="9.2" fill="#20c698"/>
<rect x="936.90" y="424.65" width="9.2" height="9.2" fill="#a01a12"/>
<rect x="950.65" y="424.65" width="9.2" height="9.2" fill="#ce2222"/>
<rect x="964.40" y="424.65" width="9.2" height="9.2" fill="#d6502e"/>
<rect x="978.15" y="424.65" width="9.2" height="9.2" fill="#ce2222"/>
<rect x="991.90" y="424.65" width="9.2" height="9.2" fill="#a01a12"/>
<rect x="1005.65" y="424.65" width="9.2" height="9.2" fill="#e0803a"/>
<rect x="1019.40" y="424.65" width="9.2" height="9.2" fill="#e2e030"/>
<rect x="1033.15" y="424.65" width="9.2" height="9.2" fill="#e2e030"/>
<rect x="1046.90" y="424.65" width="9.2" height="9.2" fill="#54cc64"/>
<rect x="1060.65" y="424.65" width="9.2" height="9.2" fill="#54cc64"/>
<rect x="1074.40" y="424.65" width="9.2" height="9.2" fill="#54cc64"/>
<rect x="1088.15" y="424.65" width="9.2" height="9.2" fill="#54cc64"/>
<rect x="1101.90" y="424.65" width="9.2" height="9.2" fill="#20c698"/>
<rect x="1115.65" y="424.65" width="9.2" height="9.2" fill="#20c698"/>
<rect x="1129.40" y="424.65" width="9.2" height="9.2" fill="#20c698"/>
<rect x="1143.15" y="424.65" width="9.2" height="9.2" fill="#20c698"/>
<rect x="1156.90" y="424.65" width="9.2" height="9.2" fill="#20c698"/>
<rect x="936.90" y="438.90" width="9.2" height="9.2" fill="#d6502e"/>
<rect x="950.65" y="438.90" width="9.2" height="9.2" fill="#ce2222"/>
<rect x="964.40" y="438.90" width="9.2" height="9.2" fill="#d6502e"/>
<rect x="978.15" y="438.90" width="9.2" height="9.2" fill="#d6502e"/>
<rect x="991.90" y="438.90" width="9.2" height="9.2" fill="#ce2222"/>
<rect x="1005.65" y="438.90" width="9.2" height="9.2" fill="#ce2222"/>
<rect x="1019.40" y="438.90" width="9.2" height="9.2" fill="#e0803a"/>
<rect x="1033.15" y="438.90" width="9.2" height="9.2" fill="#e0803a"/>
<rect x="1046.90" y="438.90" width="9.2" height="9.2" fill="#b2d844"/>
<rect x="1060.65" y="438.90" width="9.2" height="9.2" fill="#54cc64"/>
<rect x="1074.40" y="438.90" width="9.2" height="9.2" fill="#54cc64"/>
<rect x="1088.15" y="438.90" width="9.2" height="9.2" fill="#54cc64"/>
<rect x="1101.90" y="438.90" width="9.2" height="9.2" fill="#54cc64"/>
<rect x="1115.65" y="438.90" width="9.2" height="9.2" fill="#54cc64"/>
<rect x="1129.40" y="438.90" width="9.2" height="9.2" fill="#54cc64"/>
<rect x="1143.15" y="438.90" width="9.2" height="9.2" fill="#20c698"/>
<rect x="1156.90" y="438.90" width="9.2" height="9.2" fill="#20c698"/>
<rect x="936.90" y="453.15" width="9.2" height="9.2" fill="#d6502e"/>
<rect x="950.65" y="453.15" width="9.2" height="9.2" fill="#e0803a"/>
<rect x="964.40" y="453.15" width="9.2" height="9.2" fill="#d6502e"/>
<rect x="978.15" y="453.15" width="9.2" height="9.2" fill="#d6502e"/>
<rect x="991.90" y="453.15" width="9.2" height="9.2" fill="#ce2222"/>
<rect x="1005.65" y="453.15" width="9.2" height="9.2" fill="#ce2222"/>
<rect x="1019.40" y="453.15" width="9.2" height="9.2" fill="#ce2222"/>
<rect x="1033.15" y="453.15" width="9.2" height="9.2" fill="#d6502e"/>
<rect x="1046.90" y="453.15" width="9.2" height="9.2" fill="#e8b23a"/>
<rect x="1060.65" y="453.15" width="9.2" height="9.2" fill="#b2d844"/>
<rect x="1074.40" y="453.15" width="9.2" height="9.2" fill="#b2d844"/>
<rect x="1088.15" y="453.15" width="9.2" height="9.2" fill="#b2d844"/>
<rect x="1101.90" y="453.15" width="9.2" height="9.2" fill="#e2e030"/>
<rect x="1115.65" y="453.15" width="9.2" height="9.2" fill="#e2e030"/>
<rect x="1129.40" y="453.15" width="9.2" height="9.2" fill="#b2d844"/>
<rect x="1143.15" y="453.15" width="9.2" height="9.2" fill="#20c698"/>
<rect x="1156.90" y="453.15" width="9.2" height="9.2" fill="#15687a"/>
<rect x="936.90" y="467.40" width="9.2" height="9.2" fill="#d6502e"/>
<rect x="950.65" y="467.40" width="9.2" height="9.2" fill="#e0803a"/>
<rect x="964.40" y="467.40" width="9.2" height="9.2" fill="#d6502e"/>
<rect x="978.15" y="467.40" width="9.2" height="9.2" fill="#ce2222"/>
<rect x="991.90" y="467.40" width="9.2" height="9.2" fill="#ce2222"/>
<rect x="1005.65" y="467.40" width="9.2" height="9.2" fill="#ce2222"/>
<rect x="1019.40" y="467.40" width="9.2" height="9.2" fill="#ce2222"/>
<rect x="1033.15" y="467.40" width="9.2" height="9.2" fill="#d6502e"/>
<rect x="1046.90" y="467.40" width="9.2" height="9.2" fill="#a01a12"/>
<rect x="1060.65" y="467.40" width="9.2" height="9.2" fill="#e2e030"/>
<rect x="1074.40" y="467.40" width="9.2" height="9.2" fill="#b2d844"/>
<rect x="1088.15" y="467.40" width="9.2" height="9.2" fill="#54cc64"/>
<rect x="1101.90" y="467.40" width="9.2" height="9.2" fill="#e2e030"/>
<rect x="1115.65" y="467.40" width="9.2" height="9.2" fill="#e8b23a"/>
<rect x="1129.40" y="467.40" width="9.2" height="9.2" fill="#b2d844"/>
<rect x="1143.15" y="467.40" width="9.2" height="9.2" fill="#20c698"/>
<rect x="1156.90" y="467.40" width="9.2" height="9.2" fill="#4888a0"/>
<rect x="936.90" y="481.65" width="9.2" height="9.2" fill="#e8b23a"/>
<rect x="950.65" y="481.65" width="9.2" height="9.2" fill="#e2e030"/>
<rect x="964.40" y="481.65" width="9.2" height="9.2" fill="#e8b23a"/>
<rect x="978.15" y="481.65" width="9.2" height="9.2" fill="#e0803a"/>
<rect x="991.90" y="481.65" width="9.2" height="9.2" fill="#ce2222"/>
<rect x="1005.65" y="481.65" width="9.2" height="9.2" fill="#ce2222"/>
<rect x="1019.40" y="481.65" width="9.2" height="9.2" fill="#ce2222"/>
<rect x="1033.15" y="481.65" width="9.2" height="9.2" fill="#d6502e"/>
<rect x="1046.90" y="481.65" width="9.2" height="9.2" fill="#ce2222"/>
<rect x="1060.65" y="481.65" width="9.2" height="9.2" fill="#e0803a"/>
<rect x="1074.40" y="481.65" width="9.2" height="9.2" fill="#e2e030"/>
<rect x="1088.15" y="481.65" width="9.2" height="9.2" fill="#54cc64"/>
<rect x="1101.90" y="481.65" width="9.2" height="9.2" fill="#b2d844"/>
<rect x="1115.65" y="481.65" width="9.2" height="9.2" fill="#e2e030"/>
<rect x="1129.40" y="481.65" width="9.2" height="9.2" fill="#b2d844"/>
<rect x="1143.15" y="481.65" width="9.2" height="9.2" fill="#54cc64"/>
<rect x="1156.90" y="481.65" width="9.2" height="9.2" fill="#0e2438"/>
<rect x="936.90" y="495.90" width="9.2" height="9.2" fill="#e0803a"/>
<rect x="950.65" y="495.90" width="9.2" height="9.2" fill="#e2e030"/>
<rect x="964.40" y="495.90" width="9.2" height="9.2" fill="#e0803a"/>
<rect x="978.15" y="495.90" width="9.2" height="9.2" fill="#e0803a"/>
<rect x="991.90" y="495.90" width="9.2" height="9.2" fill="#e0803a"/>
<rect x="1005.65" y="495.90" width="9.2" height="9.2" fill="#d6502e"/>
<rect x="1019.40" y="495.90" width="9.2" height="9.2" fill="#ce2222"/>
<rect x="1033.15" y="495.90" width="9.2" height="9.2" fill="#ce2222"/>
<rect x="1046.90" y="495.90" width="9.2" height="9.2" fill="#ce2222"/>
<rect x="1060.65" y="495.90" width="9.2" height="9.2" fill="#e0803a"/>
<rect x="1074.40" y="495.90" width="9.2" height="9.2" fill="#e8b23a"/>
<rect x="1088.15" y="495.90" width="9.2" height="9.2" fill="#b2d844"/>
<rect x="1101.90" y="495.90" width="9.2" height="9.2" fill="#b2d844"/>
<rect x="1115.65" y="495.90" width="9.2" height="9.2" fill="#e2e030"/>
<rect x="1129.40" y="495.90" width="9.2" height="9.2" fill="#b2d844"/>
<rect x="1143.15" y="495.90" width="9.2" height="9.2" fill="#54cc64"/>
<rect x="1156.90" y="495.90" width="9.2" height="9.2" fill="#0e2438"/>
<rect x="936.90" y="510.15" width="9.2" height="9.2" fill="#d6502e"/>
<rect x="950.65" y="510.15" width="9.2" height="9.2" fill="#e2e030"/>
<rect x="964.40" y="510.15" width="9.2" height="9.2" fill="#ce2222"/>
<rect x="978.15" y="510.15" width="9.2" height="9.2" fill="#ce2222"/>
<rect x="991.90" y="510.15" width="9.2" height="9.2" fill="#ce2222"/>
<rect x="1005.65" y="510.15" width="9.2" height="9.2" fill="#e0803a"/>
<rect x="1019.40" y="510.15" width="9.2" height="9.2" fill="#ce2222"/>
<rect x="1033.15" y="510.15" width="9.2" height="9.2" fill="#ce2222"/>
<rect x="1046.90" y="510.15" width="9.2" height="9.2" fill="#e8b23a"/>
<rect x="1060.65" y="510.15" width="9.2" height="9.2" fill="#e8b23a"/>
<rect x="1074.40" y="510.15" width="9.2" height="9.2" fill="#e8b23a"/>
<rect x="1088.15" y="510.15" width="9.2" height="9.2" fill="#e2e030"/>
<rect x="1101.90" y="510.15" width="9.2" height="9.2" fill="#54cc64"/>
<rect x="1115.65" y="510.15" width="9.2" height="9.2" fill="#20c698"/>
<rect x="1129.40" y="510.15" width="9.2" height="9.2" fill="#54cc64"/>
<rect x="1143.15" y="510.15" width="9.2" height="9.2" fill="#54cc64"/>
<rect x="1156.90" y="510.15" width="9.2" height="9.2" fill="#15687a"/>
<rect x="936.90" y="524.40" width="9.2" height="9.2" fill="#e0803a"/>
<rect x="950.65" y="524.40" width="9.2" height="9.2" fill="#e2e030"/>
<rect x="964.40" y="524.40" width="9.2" height="9.2" fill="#ce2222"/>
<rect x="978.15" y="524.40" width="9.2" height="9.2" fill="#ce2222"/>
<rect x="991.90" y="524.40" width="9.2" height="9.2" fill="#ce2222"/>
<rect x="1005.65" y="524.40" width="9.2" height="9.2" fill="#e0803a"/>
<rect x="1019.40" y="524.40" width="9.2" height="9.2" fill="#ce2222"/>
<rect x="1033.15" y="524.40" width="9.2" height="9.2" fill="#d6502e"/>
<rect x="1046.90" y="524.40" width="9.2" height="9.2" fill="#e8b23a"/>
<rect x="1060.65" y="524.40" width="9.2" height="9.2" fill="#e8b23a"/>
<rect x="1074.40" y="524.40" width="9.2" height="9.2" fill="#e8b23a"/>
<rect x="1088.15" y="524.40" width="9.2" height="9.2" fill="#e8b23a"/>
<rect x="1101.90" y="524.40" width="9.2" height="9.2" fill="#b2d844"/>
<rect x="1115.65" y="524.40" width="9.2" height="9.2" fill="#20c698"/>
<rect x="1129.40" y="524.40" width="9.2" height="9.2" fill="#54cc64"/>
<rect x="1143.15" y="524.40" width="9.2" height="9.2" fill="#b2d844"/>
<rect x="1156.90" y="524.40" width="9.2" height="9.2" fill="#1fb09a"/>
<rect x="936.90" y="538.65" width="9.2" height="9.2" fill="#b2d844"/>
<rect x="950.65" y="538.65" width="9.2" height="9.2" fill="#e2e030"/>
<rect x="964.40" y="538.65" width="9.2" height="9.2" fill="#ce2222"/>
<rect x="978.15" y="538.65" width="9.2" height="9.2" fill="#ce2222"/>
<rect x="991.90" y="538.65" width="9.2" height="9.2" fill="#d6502e"/>
<rect x="1005.65" y="538.65" width="9.2" height="9.2" fill="#e8b23a"/>
<rect x="1019.40" y="538.65" width="9.2" height="9.2" fill="#e0803a"/>
<rect x="1033.15" y="538.65" width="9.2" height="9.2" fill="#d6502e"/>
<rect x="1046.90" y="538.65" width="9.2" height="9.2" fill="#e8b23a"/>
<rect x="1060.65" y="538.65" width="9.2" height="9.2" fill="#e8b23a"/>
<rect x="1074.40" y="538.65" width="9.2" height="9.2" fill="#e8b23a"/>
<rect x="1088.15" y="538.65" width="9.2" height="9.2" fill="#e8b23a"/>
<rect x="1101.90" y="538.65" width="9.2" height="9.2" fill="#b2d844"/>
<rect x="1115.65" y="538.65" width="9.2" height="9.2" fill="#54cc64"/>
<rect x="1129.40" y="538.65" width="9.2" height="9.2" fill="#54cc64"/>
<rect x="1143.15" y="538.65" width="9.2" height="9.2" fill="#b2d844"/>
<rect x="1156.90" y="538.65" width="9.2" height="9.2" fill="#1fb09a"/>
<rect x="936.90" y="552.90" width="9.2" height="9.2" fill="#1fb09a"/>
<rect x="950.65" y="552.90" width="9.2" height="9.2" fill="#d6502e"/>
<rect x="964.40" y="552.90" width="9.2" height="9.2" fill="#ce2222"/>
<rect x="978.15" y="552.90" width="9.2" height="9.2" fill="#a01a12"/>
<rect x="991.90" y="552.90" width="9.2" height="9.2" fill="#e8b23a"/>
<rect x="1005.65" y="552.90" width="9.2" height="9.2" fill="#e0803a"/>
<rect x="1019.40" y="552.90" width="9.2" height="9.2" fill="#e0803a"/>
<rect x="1033.15" y="552.90" width="9.2" height="9.2" fill="#e8b23a"/>
<rect x="1046.90" y="552.90" width="9.2" height="9.2" fill="#d6502e"/>
<rect x="1060.65" y="552.90" width="9.2" height="9.2" fill="#e0803a"/>
<rect x="1074.40" y="552.90" width="9.2" height="9.2" fill="#e2e030"/>
<rect x="1088.15" y="552.90" width="9.2" height="9.2" fill="#e2e030"/>
<rect x="1101.90" y="552.90" width="9.2" height="9.2" fill="#b2d844"/>
<rect x="1115.65" y="552.90" width="9.2" height="9.2" fill="#b2d844"/>
<rect x="1129.40" y="552.90" width="9.2" height="9.2" fill="#b2d844"/>
<rect x="1143.15" y="552.90" width="9.2" height="9.2" fill="#54cc64"/>
<rect x="1156.90" y="552.90" width="9.2" height="9.2" fill="#1fb09a"/>
<rect x="936.90" y="567.15" width="9.2" height="9.2" fill="#20c698"/>
<rect x="950.65" y="567.15" width="9.2" height="9.2" fill="#e8b23a"/>
<rect x="964.40" y="567.15" width="9.2" height="9.2" fill="#ce2222"/>
<rect x="978.15" y="567.15" width="9.2" height="9.2" fill="#e8b23a"/>
<rect x="991.90" y="567.15" width="9.2" height="9.2" fill="#e2e030"/>
<rect x="1005.65" y="567.15" width="9.2" height="9.2" fill="#e2e030"/>
<rect x="1019.40" y="567.15" width="9.2" height="9.2" fill="#e2e030"/>
<rect x="1033.15" y="567.15" width="9.2" height="9.2" fill="#e2e030"/>
<rect x="1046.90" y="567.15" width="9.2" height="9.2" fill="#e2e030"/>
<rect x="1060.65" y="567.15" width="9.2" height="9.2" fill="#e8b23a"/>
<rect x="1074.40" y="567.15" width="9.2" height="9.2" fill="#e2e030"/>
<rect x="1088.15" y="567.15" width="9.2" height="9.2" fill="#e2e030"/>
<rect x="1101.90" y="567.15" width="9.2" height="9.2" fill="#e8b23a"/>
<rect x="1115.65" y="567.15" width="9.2" height="9.2" fill="#e2e030"/>
<rect x="1129.40" y="567.15" width="9.2" height="9.2" fill="#b2d844"/>
<rect x="1143.15" y="567.15" width="9.2" height="9.2" fill="#54cc64"/>
<rect x="1156.90" y="567.15" width="9.2" height="9.2" fill="#15687a"/>
<rect x="936.90" y="581.40" width="9.2" height="9.2" fill="#1fb09a"/>
<rect x="950.65" y="581.40" width="9.2" height="9.2" fill="#b2d844"/>
<rect x="964.40" y="581.40" width="9.2" height="9.2" fill="#a01a12"/>
<rect x="978.15" y="581.40" width="9.2" height="9.2" fill="#e0803a"/>
<rect x="991.90" y="581.40" width="9.2" height="9.2" fill="#b2d844"/>
<rect x="1005.65" y="581.40" width="9.2" height="9.2" fill="#54cc64"/>
<rect x="1019.40" y="581.40" width="9.2" height="9.2" fill="#54cc64"/>
<rect x="1033.15" y="581.40" width="9.2" height="9.2" fill="#54cc64"/>
<rect x="1046.90" y="581.40" width="9.2" height="9.2" fill="#b2d844"/>
<rect x="1060.65" y="581.40" width="9.2" height="9.2" fill="#e2e030"/>
<rect x="1074.40" y="581.40" width="9.2" height="9.2" fill="#e2e030"/>
<rect x="1088.15" y="581.40" width="9.2" height="9.2" fill="#e2e030"/>
<rect x="1101.90" y="581.40" width="9.2" height="9.2" fill="#e8b23a"/>
<rect x="1115.65" y="581.40" width="9.2" height="9.2" fill="#e2e030"/>
<rect x="1129.40" y="581.40" width="9.2" height="9.2" fill="#b2d844"/>
<rect x="1143.15" y="581.40" width="9.2" height="9.2" fill="#54cc64"/>
<rect x="1156.90" y="581.40" width="9.2" height="9.2" fill="#1fb09a"/>
</g>
<line x1="928" y1="235" x2="928" y2="601" stroke="#b8b8c4" stroke-width="1.5"/>
<line x1="928" y1="601" x2="1166" y2="601" stroke="#c8c8d4" stroke-width="1.5"/>
<g class="sans" font-size="30" fill="#333" text-anchor="end">
  <text x="922" y="256">40</text>
  <text x="922" y="327">35</text>
  <text x="922" y="398">30</text>
  <text x="922" y="469">25</text>
  <text x="922" y="540">20</text>
  <text x="922" y="611">15</text>
</g>
<g class="sans" font-size="30" fill="#333" text-anchor="middle">
  <text x="1011" y="632">10</text>
  <text x="1147" y="632">20</text>
</g>
<text class="sans" x="956" y="666" font-size="33" fill="#2a2a2a" textLength="190" lengthAdjust="spacingAndGlyphs">coordinate X</text>
<text class="sans" transform="translate(874,511) rotate(-90)" x="0" y="0" font-size="33" fill="#2a2a2a" textLength="189" lengthAdjust="spacingAndGlyphs">coordinate Y</text>
<rect x="1195" y="211" width="5" height="3" fill="#888"/>
</svg>
</body></html>
